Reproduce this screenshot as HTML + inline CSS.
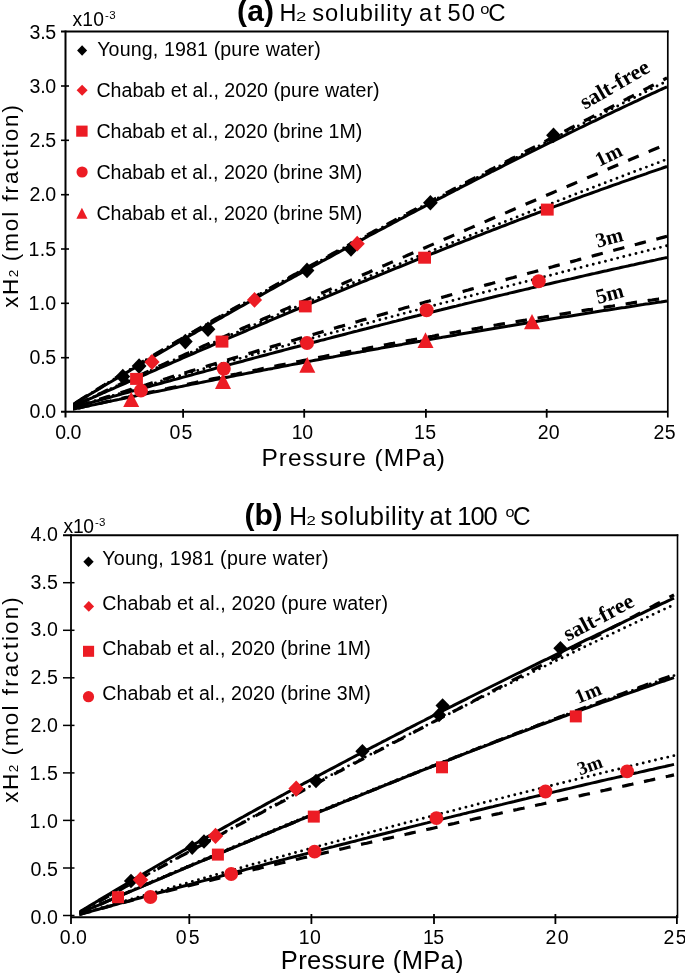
<!DOCTYPE html>
<html><head><meta charset="utf-8"><style>
html,body{margin:0;padding:0;background:#fff;}
svg{display:block;will-change:transform;}
text{fill:#000;}
</style></head><body>
<svg width="685" height="973" viewBox="0 0 685 973">
<rect width="685" height="973" fill="#fff"/>
<line x1="61" y1="31.5" x2="668.5999999999999" y2="31.5" stroke="#000" stroke-width="2"/>
<line x1="65.5" y1="30.5" x2="65.5" y2="417.6" stroke="#000" stroke-width="2"/>
<line x1="61" y1="411.8" x2="667.8" y2="411.8" stroke="#000" stroke-width="2"/>
<line x1="667.8" y1="30.5" x2="667.8" y2="417.6" stroke="#000" stroke-width="1.7"/>
<line x1="61" y1="357.7" x2="69" y2="357.7" stroke="#000" stroke-width="1.6"/>
<line x1="61" y1="303.3" x2="69" y2="303.3" stroke="#000" stroke-width="1.6"/>
<line x1="61" y1="249.0" x2="69" y2="249.0" stroke="#000" stroke-width="1.6"/>
<line x1="61" y1="194.7" x2="69" y2="194.7" stroke="#000" stroke-width="1.6"/>
<line x1="61" y1="140.3" x2="69" y2="140.3" stroke="#000" stroke-width="1.6"/>
<line x1="61" y1="86.0" x2="69" y2="86.0" stroke="#000" stroke-width="1.6"/>
<line x1="183.1" y1="409" x2="183.1" y2="417.7" stroke="#000" stroke-width="1.8"/>
<line x1="304.2" y1="409" x2="304.2" y2="417.7" stroke="#000" stroke-width="1.8"/>
<line x1="425.9" y1="409" x2="425.9" y2="417.7" stroke="#000" stroke-width="1.8"/>
<line x1="546.7" y1="409" x2="546.7" y2="417.7" stroke="#000" stroke-width="1.8"/>
<line x1="63" y1="535.2" x2="678.3" y2="535.2" stroke="#000" stroke-width="2"/>
<line x1="71.0" y1="534.2" x2="71.0" y2="924" stroke="#000" stroke-width="1.8"/>
<line x1="71.0" y1="917.2" x2="677.5" y2="917.2" stroke="#000" stroke-width="1.9"/>
<line x1="677.5" y1="534.2" x2="677.5" y2="918" stroke="#000" stroke-width="1.6"/>
<line x1="676.9" y1="915" x2="676.9" y2="924" stroke="#000" stroke-width="1.8"/>
<line x1="63" y1="915.5" x2="74.5" y2="915.5" stroke="#000" stroke-width="1.5"/>
<line x1="63" y1="868.0" x2="74.5" y2="868.0" stroke="#000" stroke-width="1.5"/>
<line x1="63" y1="820.4" x2="74.5" y2="820.4" stroke="#000" stroke-width="1.5"/>
<line x1="63" y1="772.9" x2="74.5" y2="772.9" stroke="#000" stroke-width="1.5"/>
<line x1="63" y1="725.4" x2="74.5" y2="725.4" stroke="#000" stroke-width="1.5"/>
<line x1="63" y1="677.8" x2="74.5" y2="677.8" stroke="#000" stroke-width="1.5"/>
<line x1="63" y1="630.3" x2="74.5" y2="630.3" stroke="#000" stroke-width="1.5"/>
<line x1="63" y1="582.7" x2="74.5" y2="582.7" stroke="#000" stroke-width="1.5"/>
<line x1="189.3" y1="914" x2="189.3" y2="924" stroke="#000" stroke-width="1.8"/>
<line x1="311.4" y1="914" x2="311.4" y2="924" stroke="#000" stroke-width="1.8"/>
<line x1="434.0" y1="914" x2="434.0" y2="924" stroke="#000" stroke-width="1.8"/>
<line x1="555.4" y1="914" x2="555.4" y2="924" stroke="#000" stroke-width="1.8"/>
<defs><clipPath id="ca"><rect x="73.1" y="30" width="595" height="382"/></clipPath><clipPath id="cb"><rect x="79.3" y="535" width="598" height="382"/></clipPath></defs>
<g clip-path="url(#ca)">
<polyline points="71.0,405.6 74.0,403.8 77.0,402.0 80.0,400.2 83.0,398.4 86.1,396.6 89.1,394.8 92.1,393.0 95.1,391.2 98.1,389.4 101.1,387.6 104.1,385.8 107.1,384.0 110.1,382.3 113.1,380.5 116.2,378.7 119.2,376.9 122.2,375.1 125.2,373.4 128.2,371.6 131.2,369.8 134.2,368.1 137.2,366.3 140.2,364.5 143.2,362.8 146.3,361.0 149.3,359.2 152.3,357.5 155.3,355.7 158.3,354.0 161.3,352.2 164.3,350.5 167.3,348.7 170.3,347.0 173.3,345.2 176.4,343.5 179.4,341.7 182.4,340.0 185.4,338.3 188.4,336.5 191.4,334.8 194.4,333.1 197.4,331.3 200.4,329.6 203.4,327.9 206.5,326.2 209.5,324.4 212.5,322.7 215.5,321.0 218.5,319.3 221.5,317.6 224.5,315.8 227.5,314.1 230.5,312.4 233.5,310.7 236.6,309.0 239.6,307.3 242.6,305.6 245.6,303.9 248.6,302.2 251.6,300.5 254.6,298.8 257.6,297.1 260.6,295.4 263.6,293.7 266.7,292.0 269.7,290.3 272.7,288.7 275.7,287.0 278.7,285.3 281.7,283.6 284.7,281.9 287.7,280.3 290.7,278.6 293.7,276.9 296.8,275.3 299.8,273.6 302.8,271.9 305.8,270.3 308.8,268.6 311.8,267.0 314.8,265.3 317.8,263.6 320.8,262.0 323.8,260.3 326.9,258.7 329.9,257.1 332.9,255.4 335.9,253.8 338.9,252.1 341.9,250.5 344.9,248.9 347.9,247.2 350.9,245.6 353.9,244.0 357.0,242.3 360.0,240.7 363.0,239.1 366.0,237.5 369.0,235.8 372.0,234.2 375.0,232.6 378.0,231.0 381.0,229.4 384.1,227.8 387.1,226.2 390.1,224.6 393.1,223.0 396.1,221.4 399.1,219.8 402.1,218.2 405.1,216.6 408.1,215.0 411.1,213.4 414.2,211.8 417.2,210.2 420.2,208.6 423.2,207.1 426.2,205.5 429.2,203.9 432.2,202.3 435.2,200.8 438.2,199.2 441.2,197.6 444.3,196.1 447.3,194.5 450.3,192.9 453.3,191.4 456.3,189.8 459.3,188.3 462.3,186.7 465.3,185.2 468.3,183.6 471.3,182.1 474.4,180.5 477.4,179.0 480.4,177.5 483.4,175.9 486.4,174.4 489.4,172.9 492.4,171.3 495.4,169.8 498.4,168.3 501.4,166.8 504.5,165.2 507.5,163.7 510.5,162.2 513.5,160.7 516.5,159.2 519.5,157.7 522.5,156.2 525.5,154.7 528.5,153.2 531.5,151.7 534.6,150.2 537.6,148.7 540.6,147.2 543.6,145.7 546.6,144.2 549.6,142.7 552.6,141.3 555.6,139.8 558.6,138.3 561.6,136.8 564.7,135.4 567.7,133.9 570.7,132.4 573.7,131.0 576.7,129.5 579.7,128.0 582.7,126.6 585.7,125.1 588.7,123.7 591.7,122.2 594.8,120.8 597.8,119.3 600.8,117.9 603.8,116.4 606.8,115.0 609.8,113.6 612.8,112.1 615.8,110.7 618.8,109.3 621.8,107.8 624.9,106.4 627.9,105.0 630.9,103.6 633.9,102.2 636.9,100.8 639.9,99.3 642.9,97.9 645.9,96.5 648.9,95.1 651.9,93.7 655.0,92.3 658.0,90.9 661.0,89.5 664.0,88.2 667.0,86.8" fill="none" stroke="#000" stroke-width="3.0" stroke-linejoin="round"/>
<polyline points="71.0,405.7 74.0,403.8 77.0,401.9 80.0,400.0 83.0,398.1 86.1,396.2 89.1,394.4 92.1,392.5 95.1,390.6 98.1,388.8 101.1,386.9 104.1,385.1 107.1,383.2 110.1,381.4 113.1,379.6 116.2,377.7 119.2,375.9 122.2,374.1 125.2,372.2 128.2,370.4 131.2,368.6 134.2,366.8 137.2,365.0 140.2,363.2 143.2,361.4 146.3,359.6 149.3,357.8 152.3,356.0 155.3,354.2 158.3,352.4 161.3,350.6 164.3,348.8 167.3,347.0 170.3,345.3 173.3,343.5 176.4,341.7 179.4,340.0 182.4,338.2 185.4,336.4 188.4,334.7 191.4,332.9 194.4,331.2 197.4,329.4 200.4,327.7 203.4,325.9 206.5,324.2 209.5,322.5 212.5,320.7 215.5,319.0 218.5,317.3 221.5,315.6 224.5,313.8 227.5,312.1 230.5,310.4 233.5,308.7 236.6,307.0 239.6,305.3 242.6,303.6 245.6,301.9 248.6,300.2 251.6,298.5 254.6,296.8 257.6,295.1 260.6,293.4 263.6,291.7 266.7,290.0 269.7,288.3 272.7,286.6 275.7,285.0 278.7,283.3 281.7,281.6 284.7,279.9 287.7,278.3 290.7,276.6 293.7,274.9 296.8,273.3 299.8,271.6 302.8,270.0 305.8,268.3 308.8,266.6 311.8,265.0 314.8,263.3 317.8,261.7 320.8,260.0 323.8,258.4 326.9,256.8 329.9,255.1 332.9,253.5 335.9,251.8 338.9,250.2 341.9,248.6 344.9,247.0 347.9,245.3 350.9,243.7 353.9,242.1 357.0,240.4 360.0,238.8 363.0,237.2 366.0,235.6 369.0,234.0 372.0,232.4 375.0,230.7 378.0,229.1 381.0,227.5 384.1,225.9 387.1,224.3 390.1,222.7 393.1,221.1 396.1,219.5 399.1,217.9 402.1,216.3 405.1,214.7 408.1,213.1 411.1,211.5 414.2,209.9 417.2,208.3 420.2,206.7 423.2,205.1 426.2,203.5 429.2,201.9 432.2,200.3 435.2,198.7 438.2,197.2 441.2,195.6 444.3,194.0 447.3,192.4 450.3,190.8 453.3,189.2 456.3,187.7 459.3,186.1 462.3,184.5 465.3,182.9 468.3,181.3 471.3,179.8 474.4,178.2 477.4,176.6 480.4,175.0 483.4,173.5 486.4,171.9 489.4,170.3 492.4,168.8 495.4,167.2 498.4,165.6 501.4,164.0 504.5,162.5 507.5,160.9 510.5,159.3 513.5,157.8 516.5,156.2 519.5,154.6 522.5,153.1 525.5,151.5 528.5,149.9 531.5,148.4 534.6,146.8 537.6,145.2 540.6,143.7 543.6,142.1 546.6,140.6 549.6,139.0 552.6,137.4 555.6,135.9 558.6,134.3 561.6,132.7 564.7,131.2 567.7,129.6 570.7,128.0 573.7,126.5 576.7,124.9 579.7,123.4 582.7,121.8 585.7,120.2 588.7,118.7 591.7,117.1 594.8,115.5 597.8,114.0 600.8,112.4 603.8,110.8 606.8,109.3 609.8,107.7 612.8,106.2 615.8,104.6 618.8,103.0 621.8,101.5 624.9,99.9 627.9,98.3 630.9,96.8 633.9,95.2 636.9,93.6 639.9,92.0 642.9,90.5 645.9,88.9 648.9,87.3 651.9,85.8 655.0,84.2 658.0,82.6 661.0,81.0 664.0,79.5 667.0,77.9" fill="none" stroke="#000" stroke-width="3.2" stroke-dasharray="11.5 10.8" stroke-linejoin="round" stroke-dashoffset="-7.3"/>
<polyline points="71.0,405.6 74.0,403.8 77.0,401.9 80.0,400.0 83.0,398.2 86.1,396.3 89.1,394.4 92.1,392.6 95.1,390.7 98.1,388.9 101.1,387.0 104.1,385.2 107.1,383.4 110.1,381.5 113.1,379.7 116.2,377.9 119.2,376.1 122.2,374.2 125.2,372.4 128.2,370.6 131.2,368.8 134.2,367.0 137.2,365.2 140.2,363.4 143.2,361.6 146.3,359.8 149.3,358.0 152.3,356.2 155.3,354.4 158.3,352.6 161.3,350.9 164.3,349.1 167.3,347.3 170.3,345.5 173.3,343.8 176.4,342.0 179.4,340.2 182.4,338.5 185.4,336.7 188.4,335.0 191.4,333.2 194.4,331.5 197.4,329.7 200.4,328.0 203.4,326.3 206.5,324.5 209.5,322.8 212.5,321.1 215.5,319.3 218.5,317.6 221.5,315.9 224.5,314.2 227.5,312.5 230.5,310.7 233.5,309.0 236.6,307.3 239.6,305.6 242.6,303.9 245.6,302.2 248.6,300.5 251.6,298.8 254.6,297.1 257.6,295.4 260.6,293.7 263.6,292.1 266.7,290.4 269.7,288.7 272.7,287.0 275.7,285.3 278.7,283.7 281.7,282.0 284.7,280.3 287.7,278.7 290.7,277.0 293.7,275.3 296.8,273.7 299.8,272.0 302.8,270.4 305.8,268.7 308.8,267.1 311.8,265.4 314.8,263.8 317.8,262.1 320.8,260.5 323.8,258.8 326.9,257.2 329.9,255.6 332.9,253.9 335.9,252.3 338.9,250.7 341.9,249.0 344.9,247.4 347.9,245.8 350.9,244.2 353.9,242.5 357.0,240.9 360.0,239.3 363.0,237.7 366.0,236.1 369.0,234.5 372.0,232.9 375.0,231.3 378.0,229.7 381.0,228.0 384.1,226.4 387.1,224.8 390.1,223.2 393.1,221.6 396.1,220.1 399.1,218.5 402.1,216.9 405.1,215.3 408.1,213.7 411.1,212.1 414.2,210.5 417.2,208.9 420.2,207.3 423.2,205.8 426.2,204.2 429.2,202.6 432.2,201.0 435.2,199.5 438.2,197.9 441.2,196.3 444.3,194.7 447.3,193.2 450.3,191.6 453.3,190.0 456.3,188.5 459.3,186.9 462.3,185.3 465.3,183.8 468.3,182.2 471.3,180.7 474.4,179.1 477.4,177.5 480.4,176.0 483.4,174.4 486.4,172.9 489.4,171.3 492.4,169.8 495.4,168.2 498.4,166.7 501.4,165.1 504.5,163.6 507.5,162.0 510.5,160.5 513.5,158.9 516.5,157.4 519.5,155.9 522.5,154.3 525.5,152.8 528.5,151.2 531.5,149.7 534.6,148.2 537.6,146.6 540.6,145.1 543.6,143.5 546.6,142.0 549.6,140.5 552.6,138.9 555.6,137.4 558.6,135.9 561.6,134.4 564.7,132.8 567.7,131.3 570.7,129.8 573.7,128.2 576.7,126.7 579.7,125.2 582.7,123.6 585.7,122.1 588.7,120.6 591.7,119.1 594.8,117.5 597.8,116.0 600.8,114.5 603.8,113.0 606.8,111.4 609.8,109.9 612.8,108.4 615.8,106.9 618.8,105.4 621.8,103.8 624.9,102.3 627.9,100.8 630.9,99.3 633.9,97.8 636.9,96.2 639.9,94.7 642.9,93.2 645.9,91.7 648.9,90.2 651.9,88.6 655.0,87.1 658.0,85.6 661.0,84.1 664.0,82.6 667.0,81.0" fill="none" stroke="#000" stroke-width="2.9" stroke-dasharray="0 6.3" stroke-linecap="round"/>
<polyline points="71.0,407.2 74.0,405.8 77.0,404.5 80.0,403.2 83.0,401.8 86.1,400.5 89.1,399.2 92.1,397.9 95.1,396.5 98.1,395.2 101.1,393.9 104.1,392.5 107.1,391.2 110.1,389.9 113.1,388.6 116.2,387.2 119.2,385.9 122.2,384.6 125.2,383.3 128.2,381.9 131.2,380.6 134.2,379.3 137.2,378.0 140.2,376.6 143.2,375.3 146.3,374.0 149.3,372.7 152.3,371.4 155.3,370.1 158.3,368.7 161.3,367.4 164.3,366.1 167.3,364.8 170.3,363.5 173.3,362.2 176.4,360.9 179.4,359.6 182.4,358.2 185.4,356.9 188.4,355.6 191.4,354.3 194.4,353.0 197.4,351.7 200.4,350.4 203.4,349.1 206.5,347.8 209.5,346.5 212.5,345.2 215.5,343.9 218.5,342.6 221.5,341.3 224.5,340.0 227.5,338.7 230.5,337.4 233.5,336.1 236.6,334.8 239.6,333.5 242.6,332.3 245.6,331.0 248.6,329.7 251.6,328.4 254.6,327.1 257.6,325.8 260.6,324.5 263.6,323.3 266.7,322.0 269.7,320.7 272.7,319.4 275.7,318.2 278.7,316.9 281.7,315.6 284.7,314.3 287.7,313.1 290.7,311.8 293.7,310.5 296.8,309.3 299.8,308.0 302.8,306.7 305.8,305.5 308.8,304.2 311.8,302.9 314.8,301.7 317.8,300.4 320.8,299.2 323.8,297.9 326.9,296.6 329.9,295.4 332.9,294.1 335.9,292.9 338.9,291.6 341.9,290.4 344.9,289.1 347.9,287.9 350.9,286.7 353.9,285.4 357.0,284.2 360.0,282.9 363.0,281.7 366.0,280.5 369.0,279.2 372.0,278.0 375.0,276.8 378.0,275.5 381.0,274.3 384.1,273.1 387.1,271.9 390.1,270.6 393.1,269.4 396.1,268.2 399.1,267.0 402.1,265.8 405.1,264.6 408.1,263.3 411.1,262.1 414.2,260.9 417.2,259.7 420.2,258.5 423.2,257.3 426.2,256.1 429.2,254.9 432.2,253.7 435.2,252.5 438.2,251.3 441.2,250.1 444.3,248.9 447.3,247.7 450.3,246.5 453.3,245.4 456.3,244.2 459.3,243.0 462.3,241.8 465.3,240.6 468.3,239.5 471.3,238.3 474.4,237.1 477.4,235.9 480.4,234.8 483.4,233.6 486.4,232.4 489.4,231.3 492.4,230.1 495.4,229.0 498.4,227.8 501.4,226.6 504.5,225.5 507.5,224.3 510.5,223.2 513.5,222.0 516.5,220.9 519.5,219.7 522.5,218.6 525.5,217.5 528.5,216.3 531.5,215.2 534.6,214.1 537.6,212.9 540.6,211.8 543.6,210.7 546.6,209.6 549.6,208.4 552.6,207.3 555.6,206.2 558.6,205.1 561.6,204.0 564.7,202.9 567.7,201.8 570.7,200.6 573.7,199.5 576.7,198.4 579.7,197.3 582.7,196.2 585.7,195.1 588.7,194.1 591.7,193.0 594.8,191.9 597.8,190.8 600.8,189.7 603.8,188.6 606.8,187.6 609.8,186.5 612.8,185.4 615.8,184.3 618.8,183.3 621.8,182.2 624.9,181.1 627.9,180.1 630.9,179.0 633.9,178.0 636.9,176.9 639.9,175.9 642.9,174.8 645.9,173.8 648.9,172.7 651.9,171.7 655.0,170.6 658.0,169.6 661.0,168.6 664.0,167.5 667.0,166.5" fill="none" stroke="#000" stroke-width="3.0" stroke-linejoin="round"/>
<polyline points="71.0,407.2 74.0,405.8 77.0,404.4 80.0,403.0 83.0,401.6 86.1,400.2 89.1,398.8 92.1,397.4 95.1,395.9 98.1,394.5 101.1,393.1 104.1,391.7 107.1,390.3 110.1,388.9 113.1,387.5 116.2,386.1 119.2,384.7 122.2,383.3 125.2,381.9 128.2,380.5 131.2,379.1 134.2,377.7 137.2,376.3 140.2,375.0 143.2,373.6 146.3,372.2 149.3,370.8 152.3,369.4 155.3,368.0 158.3,366.6 161.3,365.3 164.3,363.9 167.3,362.5 170.3,361.1 173.3,359.7 176.4,358.4 179.4,357.0 182.4,355.6 185.4,354.2 188.4,352.9 191.4,351.5 194.4,350.1 197.4,348.7 200.4,347.4 203.4,346.0 206.5,344.6 209.5,343.3 212.5,341.9 215.5,340.5 218.5,339.2 221.5,337.8 224.5,336.5 227.5,335.1 230.5,333.7 233.5,332.4 236.6,331.0 239.6,329.7 242.6,328.3 245.6,327.0 248.6,325.6 251.6,324.2 254.6,322.9 257.6,321.5 260.6,320.2 263.6,318.8 266.7,317.5 269.7,316.2 272.7,314.8 275.7,313.5 278.7,312.1 281.7,310.8 284.7,309.4 287.7,308.1 290.7,306.7 293.7,305.4 296.8,304.1 299.8,302.7 302.8,301.4 305.8,300.1 308.8,298.7 311.8,297.4 314.8,296.0 317.8,294.7 320.8,293.4 323.8,292.1 326.9,290.7 329.9,289.4 332.9,288.1 335.9,286.7 338.9,285.4 341.9,284.1 344.9,282.7 347.9,281.4 350.9,280.1 353.9,278.8 357.0,277.4 360.0,276.1 363.0,274.8 366.0,273.5 369.0,272.2 372.0,270.8 375.0,269.5 378.0,268.2 381.0,266.9 384.1,265.6 387.1,264.2 390.1,262.9 393.1,261.6 396.1,260.3 399.1,259.0 402.1,257.7 405.1,256.4 408.1,255.0 411.1,253.7 414.2,252.4 417.2,251.1 420.2,249.8 423.2,248.5 426.2,247.2 429.2,245.9 432.2,244.6 435.2,243.3 438.2,242.0 441.2,240.7 444.3,239.3 447.3,238.0 450.3,236.7 453.3,235.4 456.3,234.1 459.3,232.8 462.3,231.5 465.3,230.2 468.3,228.9 471.3,227.6 474.4,226.3 477.4,225.0 480.4,223.7 483.4,222.4 486.4,221.1 489.4,219.8 492.4,218.5 495.4,217.2 498.4,215.9 501.4,214.7 504.5,213.4 507.5,212.1 510.5,210.8 513.5,209.5 516.5,208.2 519.5,206.9 522.5,205.6 525.5,204.3 528.5,203.0 531.5,201.7 534.6,200.4 537.6,199.1 540.6,197.8 543.6,196.6 546.6,195.3 549.6,194.0 552.6,192.7 555.6,191.4 558.6,190.1 561.6,188.8 564.7,187.5 567.7,186.3 570.7,185.0 573.7,183.7 576.7,182.4 579.7,181.1 582.7,179.8 585.7,178.5 588.7,177.2 591.7,176.0 594.8,174.7 597.8,173.4 600.8,172.1 603.8,170.8 606.8,169.5 609.8,168.3 612.8,167.0 615.8,165.7 618.8,164.4 621.8,163.1 624.9,161.9 627.9,160.6 630.9,159.3 633.9,158.0 636.9,156.7 639.9,155.4 642.9,154.2 645.9,152.9 648.9,151.6 651.9,150.3 655.0,149.0 658.0,147.8 661.0,146.5 664.0,145.2 667.0,143.9" fill="none" stroke="#000" stroke-width="3.2" stroke-dasharray="11.5 10.8" stroke-linejoin="round" stroke-dashoffset="-7.3"/>
<polyline points="71.0,407.2 74.0,405.8 77.0,404.4 80.0,403.0 83.0,401.6 86.1,400.2 89.1,398.8 92.1,397.4 95.1,396.0 98.1,394.6 101.1,393.2 104.1,391.8 107.1,390.4 110.1,389.1 113.1,387.7 116.2,386.3 119.2,384.9 122.2,383.5 125.2,382.1 128.2,380.8 131.2,379.4 134.2,378.0 137.2,376.7 140.2,375.3 143.2,373.9 146.3,372.6 149.3,371.2 152.3,369.8 155.3,368.5 158.3,367.1 161.3,365.8 164.3,364.4 167.3,363.1 170.3,361.7 173.3,360.4 176.4,359.0 179.4,357.7 182.4,356.3 185.4,355.0 188.4,353.7 191.4,352.3 194.4,351.0 197.4,349.7 200.4,348.3 203.4,347.0 206.5,345.7 209.5,344.3 212.5,343.0 215.5,341.7 218.5,340.4 221.5,339.1 224.5,337.7 227.5,336.4 230.5,335.1 233.5,333.8 236.6,332.5 239.6,331.2 242.6,329.9 245.6,328.6 248.6,327.3 251.6,326.0 254.6,324.7 257.6,323.4 260.6,322.1 263.6,320.8 266.7,319.5 269.7,318.2 272.7,316.9 275.7,315.6 278.7,314.3 281.7,313.0 284.7,311.8 287.7,310.5 290.7,309.2 293.7,307.9 296.8,306.6 299.8,305.4 302.8,304.1 305.8,302.8 308.8,301.5 311.8,300.3 314.8,299.0 317.8,297.7 320.8,296.5 323.8,295.2 326.9,293.9 329.9,292.7 332.9,291.4 335.9,290.2 338.9,288.9 341.9,287.7 344.9,286.4 347.9,285.1 350.9,283.9 353.9,282.6 357.0,281.4 360.0,280.2 363.0,278.9 366.0,277.7 369.0,276.4 372.0,275.2 375.0,273.9 378.0,272.7 381.0,271.5 384.1,270.2 387.1,269.0 390.1,267.8 393.1,266.5 396.1,265.3 399.1,264.1 402.1,262.8 405.1,261.6 408.1,260.4 411.1,259.2 414.2,257.9 417.2,256.7 420.2,255.5 423.2,254.3 426.2,253.1 429.2,251.9 432.2,250.6 435.2,249.4 438.2,248.2 441.2,247.0 444.3,245.8 447.3,244.6 450.3,243.4 453.3,242.2 456.3,241.0 459.3,239.8 462.3,238.6 465.3,237.4 468.3,236.2 471.3,235.0 474.4,233.8 477.4,232.6 480.4,231.4 483.4,230.2 486.4,229.0 489.4,227.8 492.4,226.6 495.4,225.4 498.4,224.2 501.4,223.1 504.5,221.9 507.5,220.7 510.5,219.5 513.5,218.3 516.5,217.1 519.5,216.0 522.5,214.8 525.5,213.6 528.5,212.4 531.5,211.2 534.6,210.1 537.6,208.9 540.6,207.7 543.6,206.5 546.6,205.4 549.6,204.2 552.6,203.0 555.6,201.9 558.6,200.7 561.6,199.5 564.7,198.4 567.7,197.2 570.7,196.0 573.7,194.9 576.7,193.7 579.7,192.6 582.7,191.4 585.7,190.2 588.7,189.1 591.7,187.9 594.8,186.8 597.8,185.6 600.8,184.5 603.8,183.3 606.8,182.2 609.8,181.0 612.8,179.9 615.8,178.7 618.8,177.6 621.8,176.4 624.9,175.3 627.9,174.1 630.9,173.0 633.9,171.8 636.9,170.7 639.9,169.5 642.9,168.4 645.9,167.3 648.9,166.1 651.9,165.0 655.0,163.8 658.0,162.7 661.0,161.6 664.0,160.4 667.0,159.3" fill="none" stroke="#000" stroke-width="2.9" stroke-dasharray="0 6.3" stroke-linecap="round"/>
<polyline points="71.0,408.1 74.0,407.3 77.0,406.4 80.0,405.6 83.0,404.8 86.1,403.9 89.1,403.1 92.1,402.3 95.1,401.4 98.1,400.6 101.1,399.8 104.1,398.9 107.1,398.1 110.1,397.3 113.1,396.4 116.2,395.6 119.2,394.8 122.2,393.9 125.2,393.1 128.2,392.3 131.2,391.4 134.2,390.6 137.2,389.8 140.2,389.0 143.2,388.1 146.3,387.3 149.3,386.5 152.3,385.6 155.3,384.8 158.3,384.0 161.3,383.2 164.3,382.3 167.3,381.5 170.3,380.7 173.3,379.9 176.4,379.1 179.4,378.2 182.4,377.4 185.4,376.6 188.4,375.8 191.4,375.0 194.4,374.1 197.4,373.3 200.4,372.5 203.4,371.7 206.5,370.9 209.5,370.1 212.5,369.3 215.5,368.4 218.5,367.6 221.5,366.8 224.5,366.0 227.5,365.2 230.5,364.4 233.5,363.6 236.6,362.8 239.6,362.0 242.6,361.2 245.6,360.3 248.6,359.5 251.6,358.7 254.6,357.9 257.6,357.1 260.6,356.3 263.6,355.5 266.7,354.7 269.7,353.9 272.7,353.1 275.7,352.3 278.7,351.5 281.7,350.7 284.7,349.9 287.7,349.1 290.7,348.3 293.7,347.5 296.8,346.8 299.8,346.0 302.8,345.2 305.8,344.4 308.8,343.6 311.8,342.8 314.8,342.0 317.8,341.2 320.8,340.4 323.8,339.7 326.9,338.9 329.9,338.1 332.9,337.3 335.9,336.5 338.9,335.7 341.9,335.0 344.9,334.2 347.9,333.4 350.9,332.6 353.9,331.8 357.0,331.1 360.0,330.3 363.0,329.5 366.0,328.8 369.0,328.0 372.0,327.2 375.0,326.4 378.0,325.7 381.0,324.9 384.1,324.1 387.1,323.4 390.1,322.6 393.1,321.8 396.1,321.1 399.1,320.3 402.1,319.6 405.1,318.8 408.1,318.0 411.1,317.3 414.2,316.5 417.2,315.8 420.2,315.0 423.2,314.3 426.2,313.5 429.2,312.8 432.2,312.0 435.2,311.3 438.2,310.5 441.2,309.8 444.3,309.0 447.3,308.3 450.3,307.5 453.3,306.8 456.3,306.1 459.3,305.3 462.3,304.6 465.3,303.8 468.3,303.1 471.3,302.4 474.4,301.6 477.4,300.9 480.4,300.2 483.4,299.5 486.4,298.7 489.4,298.0 492.4,297.3 495.4,296.5 498.4,295.8 501.4,295.1 504.5,294.4 507.5,293.7 510.5,292.9 513.5,292.2 516.5,291.5 519.5,290.8 522.5,290.1 525.5,289.4 528.5,288.7 531.5,287.9 534.6,287.2 537.6,286.5 540.6,285.8 543.6,285.1 546.6,284.4 549.6,283.7 552.6,283.0 555.6,282.3 558.6,281.6 561.6,280.9 564.7,280.2 567.7,279.5 570.7,278.9 573.7,278.2 576.7,277.5 579.7,276.8 582.7,276.1 585.7,275.4 588.7,274.7 591.7,274.0 594.8,273.4 597.8,272.7 600.8,272.0 603.8,271.3 606.8,270.7 609.8,270.0 612.8,269.3 615.8,268.6 618.8,268.0 621.8,267.3 624.9,266.6 627.9,266.0 630.9,265.3 633.9,264.7 636.9,264.0 639.9,263.3 642.9,262.7 645.9,262.0 648.9,261.4 651.9,260.7 655.0,260.1 658.0,259.4 661.0,258.8 664.0,258.1 667.0,257.5" fill="none" stroke="#000" stroke-width="3.0" stroke-linejoin="round"/>
<polyline points="71.0,408.2 74.0,407.3 77.0,406.4 80.0,405.4 83.0,404.5 86.1,403.6 89.1,402.7 92.1,401.8 95.1,400.8 98.1,399.9 101.1,399.0 104.1,398.1 107.1,397.2 110.1,396.3 113.1,395.4 116.2,394.5 119.2,393.6 122.2,392.7 125.2,391.8 128.2,390.9 131.2,390.0 134.2,389.1 137.2,388.2 140.2,387.3 143.2,386.4 146.3,385.5 149.3,384.6 152.3,383.7 155.3,382.9 158.3,382.0 161.3,381.1 164.3,380.2 167.3,379.3 170.3,378.4 173.3,377.6 176.4,376.7 179.4,375.8 182.4,374.9 185.4,374.1 188.4,373.2 191.4,372.3 194.4,371.4 197.4,370.6 200.4,369.7 203.4,368.8 206.5,368.0 209.5,367.1 212.5,366.2 215.5,365.4 218.5,364.5 221.5,363.6 224.5,362.8 227.5,361.9 230.5,361.1 233.5,360.2 236.6,359.4 239.6,358.5 242.6,357.7 245.6,356.8 248.6,356.0 251.6,355.1 254.6,354.3 257.6,353.4 260.6,352.6 263.6,351.7 266.7,350.9 269.7,350.0 272.7,349.2 275.7,348.4 278.7,347.5 281.7,346.7 284.7,345.8 287.7,345.0 290.7,344.2 293.7,343.3 296.8,342.5 299.8,341.7 302.8,340.8 305.8,340.0 308.8,339.2 311.8,338.3 314.8,337.5 317.8,336.7 320.8,335.9 323.8,335.0 326.9,334.2 329.9,333.4 332.9,332.6 335.9,331.8 338.9,330.9 341.9,330.1 344.9,329.3 347.9,328.5 350.9,327.7 353.9,326.8 357.0,326.0 360.0,325.2 363.0,324.4 366.0,323.6 369.0,322.8 372.0,322.0 375.0,321.2 378.0,320.3 381.0,319.5 384.1,318.7 387.1,317.9 390.1,317.1 393.1,316.3 396.1,315.5 399.1,314.7 402.1,313.9 405.1,313.1 408.1,312.3 411.1,311.5 414.2,310.7 417.2,309.9 420.2,309.1 423.2,308.3 426.2,307.5 429.2,306.7 432.2,305.9 435.2,305.1 438.2,304.3 441.2,303.5 444.3,302.8 447.3,302.0 450.3,301.2 453.3,300.4 456.3,299.6 459.3,298.8 462.3,298.0 465.3,297.2 468.3,296.4 471.3,295.7 474.4,294.9 477.4,294.1 480.4,293.3 483.4,292.5 486.4,291.7 489.4,291.0 492.4,290.2 495.4,289.4 498.4,288.6 501.4,287.8 504.5,287.0 507.5,286.3 510.5,285.5 513.5,284.7 516.5,283.9 519.5,283.2 522.5,282.4 525.5,281.6 528.5,280.8 531.5,280.1 534.6,279.3 537.6,278.5 540.6,277.7 543.6,277.0 546.6,276.2 549.6,275.4 552.6,274.7 555.6,273.9 558.6,273.1 561.6,272.3 564.7,271.6 567.7,270.8 570.7,270.0 573.7,269.3 576.7,268.5 579.7,267.7 582.7,267.0 585.7,266.2 588.7,265.4 591.7,264.7 594.8,263.9 597.8,263.1 600.8,262.4 603.8,261.6 606.8,260.9 609.8,260.1 612.8,259.3 615.8,258.6 618.8,257.8 621.8,257.0 624.9,256.3 627.9,255.5 630.9,254.8 633.9,254.0 636.9,253.2 639.9,252.5 642.9,251.7 645.9,251.0 648.9,250.2 651.9,249.4 655.0,248.7 658.0,247.9 661.0,247.2 664.0,246.4 667.0,245.7" fill="none" stroke="#000" stroke-width="2.9" stroke-dasharray="0 6.3" stroke-linecap="round"/>
<polyline points="71.0,408.2 74.0,407.3 77.0,406.3 80.0,405.4 83.0,404.4 86.1,403.5 89.1,402.5 92.1,401.6 95.1,400.7 98.1,399.7 101.1,398.8 104.1,397.8 107.1,396.9 110.1,396.0 113.1,395.0 116.2,394.1 119.2,393.1 122.2,392.2 125.2,391.3 128.2,390.3 131.2,389.4 134.2,388.5 137.2,387.5 140.2,386.6 143.2,385.7 146.3,384.8 149.3,383.8 152.3,382.9 155.3,382.0 158.3,381.0 161.3,380.1 164.3,379.2 167.3,378.3 170.3,377.3 173.3,376.4 176.4,375.5 179.4,374.6 182.4,373.7 185.4,372.7 188.4,371.8 191.4,370.9 194.4,370.0 197.4,369.1 200.4,368.2 203.4,367.2 206.5,366.3 209.5,365.4 212.5,364.5 215.5,363.6 218.5,362.7 221.5,361.8 224.5,360.9 227.5,360.0 230.5,359.0 233.5,358.1 236.6,357.2 239.6,356.3 242.6,355.4 245.6,354.5 248.6,353.6 251.6,352.7 254.6,351.8 257.6,350.9 260.6,350.0 263.6,349.1 266.7,348.2 269.7,347.3 272.7,346.4 275.7,345.5 278.7,344.6 281.7,343.8 284.7,342.9 287.7,342.0 290.7,341.1 293.7,340.2 296.8,339.3 299.8,338.4 302.8,337.5 305.8,336.6 308.8,335.7 311.8,334.9 314.8,334.0 317.8,333.1 320.8,332.2 323.8,331.3 326.9,330.5 329.9,329.6 332.9,328.7 335.9,327.8 338.9,326.9 341.9,326.1 344.9,325.2 347.9,324.3 350.9,323.4 353.9,322.6 357.0,321.7 360.0,320.8 363.0,319.9 366.0,319.1 369.0,318.2 372.0,317.3 375.0,316.5 378.0,315.6 381.0,314.7 384.1,313.9 387.1,313.0 390.1,312.1 393.1,311.3 396.1,310.4 399.1,309.6 402.1,308.7 405.1,307.8 408.1,307.0 411.1,306.1 414.2,305.3 417.2,304.4 420.2,303.6 423.2,302.7 426.2,301.8 429.2,301.0 432.2,300.1 435.2,299.3 438.2,298.4 441.2,297.6 444.3,296.7 447.3,295.9 450.3,295.0 453.3,294.2 456.3,293.4 459.3,292.5 462.3,291.7 465.3,290.8 468.3,290.0 471.3,289.1 474.4,288.3 477.4,287.5 480.4,286.6 483.4,285.8 486.4,284.9 489.4,284.1 492.4,283.3 495.4,282.4 498.4,281.6 501.4,280.8 504.5,279.9 507.5,279.1 510.5,278.3 513.5,277.5 516.5,276.6 519.5,275.8 522.5,275.0 525.5,274.2 528.5,273.3 531.5,272.5 534.6,271.7 537.6,270.9 540.6,270.0 543.6,269.2 546.6,268.4 549.6,267.6 552.6,266.8 555.6,265.9 558.6,265.1 561.6,264.3 564.7,263.5 567.7,262.7 570.7,261.9 573.7,261.1 576.7,260.3 579.7,259.4 582.7,258.6 585.7,257.8 588.7,257.0 591.7,256.2 594.8,255.4 597.8,254.6 600.8,253.8 603.8,253.0 606.8,252.2 609.8,251.4 612.8,250.6 615.8,249.8 618.8,249.0 621.8,248.2 624.9,247.4 627.9,246.6 630.9,245.8 633.9,245.0 636.9,244.2 639.9,243.4 642.9,242.6 645.9,241.8 648.9,241.1 651.9,240.3 655.0,239.5 658.0,238.7 661.0,237.9 664.0,237.1 667.0,236.3" fill="none" stroke="#000" stroke-width="3.2" stroke-dasharray="11.5 10.8" stroke-linejoin="round" stroke-dashoffset="-7.3"/>
<polyline points="71.0,409.7 74.0,409.0 77.0,408.4 80.0,407.7 83.0,407.1 86.1,406.4 89.1,405.8 92.1,405.1 95.1,404.5 98.1,403.8 101.1,403.2 104.1,402.5 107.1,401.9 110.1,401.3 113.1,400.6 116.2,400.0 119.2,399.4 122.2,398.7 125.2,398.1 128.2,397.5 131.2,396.8 134.2,396.2 137.2,395.6 140.2,394.9 143.2,394.3 146.3,393.7 149.3,393.1 152.3,392.4 155.3,391.8 158.3,391.2 161.3,390.6 164.3,390.0 167.3,389.3 170.3,388.7 173.3,388.1 176.4,387.5 179.4,386.9 182.4,386.3 185.4,385.6 188.4,385.0 191.4,384.4 194.4,383.8 197.4,383.2 200.4,382.6 203.4,382.0 206.5,381.4 209.5,380.8 212.5,380.2 215.5,379.6 218.5,379.0 221.5,378.4 224.5,377.8 227.5,377.2 230.5,376.6 233.5,376.0 236.6,375.4 239.6,374.8 242.6,374.2 245.6,373.6 248.6,373.0 251.6,372.5 254.6,371.9 257.6,371.3 260.6,370.7 263.6,370.1 266.7,369.5 269.7,368.9 272.7,368.4 275.7,367.8 278.7,367.2 281.7,366.6 284.7,366.1 287.7,365.5 290.7,364.9 293.7,364.3 296.8,363.8 299.8,363.2 302.8,362.6 305.8,362.0 308.8,361.5 311.8,360.9 314.8,360.3 317.8,359.8 320.8,359.2 323.8,358.6 326.9,358.1 329.9,357.5 332.9,357.0 335.9,356.4 338.9,355.8 341.9,355.3 344.9,354.7 347.9,354.2 350.9,353.6 353.9,353.1 357.0,352.5 360.0,352.0 363.0,351.4 366.0,350.9 369.0,350.3 372.0,349.8 375.0,349.2 378.0,348.7 381.0,348.1 384.1,347.6 387.1,347.1 390.1,346.5 393.1,346.0 396.1,345.4 399.1,344.9 402.1,344.4 405.1,343.8 408.1,343.3 411.1,342.8 414.2,342.2 417.2,341.7 420.2,341.2 423.2,340.6 426.2,340.1 429.2,339.6 432.2,339.0 435.2,338.5 438.2,338.0 441.2,337.5 444.3,336.9 447.3,336.4 450.3,335.9 453.3,335.4 456.3,334.9 459.3,334.3 462.3,333.8 465.3,333.3 468.3,332.8 471.3,332.3 474.4,331.8 477.4,331.3 480.4,330.8 483.4,330.2 486.4,329.7 489.4,329.2 492.4,328.7 495.4,328.2 498.4,327.7 501.4,327.2 504.5,326.7 507.5,326.2 510.5,325.7 513.5,325.2 516.5,324.7 519.5,324.2 522.5,323.7 525.5,323.2 528.5,322.7 531.5,322.2 534.6,321.7 537.6,321.2 540.6,320.7 543.6,320.2 546.6,319.8 549.6,319.3 552.6,318.8 555.6,318.3 558.6,317.8 561.6,317.3 564.7,316.8 567.7,316.4 570.7,315.9 573.7,315.4 576.7,314.9 579.7,314.4 582.7,314.0 585.7,313.5 588.7,313.0 591.7,312.5 594.8,312.1 597.8,311.6 600.8,311.1 603.8,310.6 606.8,310.2 609.8,309.7 612.8,309.2 615.8,308.8 618.8,308.3 621.8,307.8 624.9,307.4 627.9,306.9 630.9,306.4 633.9,306.0 636.9,305.5 639.9,305.0 642.9,304.6 645.9,304.1 648.9,303.7 651.9,303.2 655.0,302.8 658.0,302.3 661.0,301.9 664.0,301.4 667.0,300.9" fill="none" stroke="#000" stroke-width="3.0" stroke-linejoin="round"/>
<polyline points="71.0,409.7 74.0,409.1 77.0,408.4 80.0,407.7 83.0,407.0 86.1,406.3 89.1,405.7 92.1,405.0 95.1,404.3 98.1,403.6 101.1,403.0 104.1,402.3 107.1,401.6 110.1,401.0 113.1,400.3 116.2,399.6 119.2,399.0 122.2,398.3 125.2,397.6 128.2,397.0 131.2,396.3 134.2,395.7 137.2,395.0 140.2,394.3 143.2,393.7 146.3,393.0 149.3,392.4 152.3,391.7 155.3,391.1 158.3,390.4 161.3,389.8 164.3,389.1 167.3,388.5 170.3,387.8 173.3,387.2 176.4,386.6 179.4,385.9 182.4,385.3 185.4,384.6 188.4,384.0 191.4,383.4 194.4,382.7 197.4,382.1 200.4,381.5 203.4,380.8 206.5,380.2 209.5,379.6 212.5,378.9 215.5,378.3 218.5,377.7 221.5,377.1 224.5,376.4 227.5,375.8 230.5,375.2 233.5,374.6 236.6,374.0 239.6,373.3 242.6,372.7 245.6,372.1 248.6,371.5 251.6,370.9 254.6,370.3 257.6,369.7 260.6,369.0 263.6,368.4 266.7,367.8 269.7,367.2 272.7,366.6 275.7,366.0 278.7,365.4 281.7,364.8 284.7,364.2 287.7,363.6 290.7,363.0 293.7,362.4 296.8,361.8 299.8,361.2 302.8,360.6 305.8,360.0 308.8,359.5 311.8,358.9 314.8,358.3 317.8,357.7 320.8,357.1 323.8,356.5 326.9,355.9 329.9,355.3 332.9,354.8 335.9,354.2 338.9,353.6 341.9,353.0 344.9,352.5 347.9,351.9 350.9,351.3 353.9,350.7 357.0,350.2 360.0,349.6 363.0,349.0 366.0,348.5 369.0,347.9 372.0,347.3 375.0,346.8 378.0,346.2 381.0,345.6 384.1,345.1 387.1,344.5 390.1,343.9 393.1,343.4 396.1,342.8 399.1,342.3 402.1,341.7 405.1,341.2 408.1,340.6 411.1,340.1 414.2,339.5 417.2,339.0 420.2,338.4 423.2,337.9 426.2,337.3 429.2,336.8 432.2,336.3 435.2,335.7 438.2,335.2 441.2,334.6 444.3,334.1 447.3,333.6 450.3,333.0 453.3,332.5 456.3,332.0 459.3,331.4 462.3,330.9 465.3,330.4 468.3,329.8 471.3,329.3 474.4,328.8 477.4,328.3 480.4,327.7 483.4,327.2 486.4,326.7 489.4,326.2 492.4,325.7 495.4,325.2 498.4,324.6 501.4,324.1 504.5,323.6 507.5,323.1 510.5,322.6 513.5,322.1 516.5,321.6 519.5,321.1 522.5,320.6 525.5,320.1 528.5,319.5 531.5,319.0 534.6,318.5 537.6,318.0 540.6,317.5 543.6,317.1 546.6,316.6 549.6,316.1 552.6,315.6 555.6,315.1 558.6,314.6 561.6,314.1 564.7,313.6 567.7,313.1 570.7,312.6 573.7,312.1 576.7,311.7 579.7,311.2 582.7,310.7 585.7,310.2 588.7,309.7 591.7,309.3 594.8,308.8 597.8,308.3 600.8,307.8 603.8,307.4 606.8,306.9 609.8,306.4 612.8,306.0 615.8,305.5 618.8,305.0 621.8,304.6 624.9,304.1 627.9,303.6 630.9,303.2 633.9,302.7 636.9,302.2 639.9,301.8 642.9,301.3 645.9,300.9 648.9,300.4 651.9,300.0 655.0,299.5 658.0,299.1 661.0,298.6 664.0,298.2 667.0,297.7" fill="none" stroke="#000" stroke-width="3.2" stroke-dasharray="11.5 10.8" stroke-linejoin="round" stroke-dashoffset="-7.3"/>
</g>
<g clip-path="url(#cb)">
<polyline points="77.5,913.2 80.5,911.4 83.5,909.6 86.5,907.7 89.6,905.9 92.6,904.1 95.6,902.3 98.6,900.4 101.6,898.6 104.6,896.8 107.6,895.0 110.6,893.2 113.7,891.4 116.7,889.6 119.7,887.8 122.7,886.0 125.7,884.2 128.7,882.5 131.7,880.7 134.7,878.9 137.8,877.1 140.8,875.3 143.8,873.6 146.8,871.8 149.8,870.0 152.8,868.3 155.8,866.5 158.8,864.8 161.9,863.0 164.9,861.3 167.9,859.5 170.9,857.8 173.9,856.0 176.9,854.3 179.9,852.6 182.9,850.8 186.0,849.1 189.0,847.4 192.0,845.7 195.0,843.9 198.0,842.2 201.0,840.5 204.0,838.8 207.0,837.1 210.1,835.4 213.1,833.7 216.1,832.0 219.1,830.3 222.1,828.6 225.1,826.9 228.1,825.2 231.1,823.5 234.2,821.8 237.2,820.1 240.2,818.4 243.2,816.8 246.2,815.1 249.2,813.4 252.2,811.8 255.2,810.1 258.3,808.4 261.3,806.8 264.3,805.1 267.3,803.4 270.3,801.8 273.3,800.1 276.3,798.5 279.3,796.8 282.4,795.2 285.4,793.5 288.4,791.9 291.4,790.3 294.4,788.6 297.4,787.0 300.4,785.4 303.4,783.7 306.5,782.1 309.5,780.5 312.5,778.9 315.5,777.3 318.5,775.6 321.5,774.0 324.5,772.4 327.5,770.8 330.6,769.2 333.6,767.6 336.6,766.0 339.6,764.4 342.6,762.8 345.6,761.2 348.6,759.6 351.6,758.0 354.7,756.4 357.7,754.8 360.7,753.3 363.7,751.7 366.7,750.1 369.7,748.5 372.7,746.9 375.8,745.4 378.8,743.8 381.8,742.2 384.8,740.7 387.8,739.1 390.8,737.5 393.8,736.0 396.8,734.4 399.9,732.8 402.9,731.3 405.9,729.7 408.9,728.2 411.9,726.6 414.9,725.1 417.9,723.5 420.9,722.0 424.0,720.5 427.0,718.9 430.0,717.4 433.0,715.8 436.0,714.3 439.0,712.8 442.0,711.2 445.0,709.7 448.1,708.2 451.1,706.7 454.1,705.1 457.1,703.6 460.1,702.1 463.1,700.6 466.1,699.1 469.1,697.5 472.2,696.0 475.2,694.5 478.2,693.0 481.2,691.5 484.2,690.0 487.2,688.5 490.2,687.0 493.2,685.5 496.3,684.0 499.3,682.5 502.3,681.0 505.3,679.5 508.3,678.0 511.3,676.5 514.3,675.0 517.3,673.5 520.4,672.1 523.4,670.6 526.4,669.1 529.4,667.6 532.4,666.1 535.4,664.7 538.4,663.2 541.4,661.7 544.5,660.2 547.5,658.8 550.5,657.3 553.5,655.8 556.5,654.3 559.5,652.9 562.5,651.4 565.5,649.9 568.6,648.5 571.6,647.0 574.6,645.6 577.6,644.1 580.6,642.6 583.6,641.2 586.6,639.7 589.6,638.3 592.7,636.8 595.7,635.4 598.7,633.9 601.7,632.5 604.7,631.0 607.7,629.6 610.7,628.1 613.7,626.7 616.8,625.2 619.8,623.8 622.8,622.4 625.8,620.9 628.8,619.5 631.8,618.1 634.8,616.6 637.8,615.2 640.9,613.8 643.9,612.3 646.9,610.9 649.9,609.5 652.9,608.0 655.9,606.6 658.9,605.2 661.9,603.7 665.0,602.3 668.0,600.9 671.0,599.5 674.0,598.1" fill="none" stroke="#000" stroke-width="3.0" stroke-linejoin="round"/>
<polyline points="77.5,913.6 80.5,911.9 83.5,910.2 86.5,908.5 89.6,906.8 92.6,905.2 95.6,903.5 98.6,901.8 101.6,900.1 104.6,898.4 107.6,896.7 110.6,895.0 113.7,893.3 116.7,891.7 119.7,890.0 122.7,888.3 125.7,886.6 128.7,884.9 131.7,883.3 134.7,881.6 137.8,879.9 140.8,878.2 143.8,876.6 146.8,874.9 149.8,873.2 152.8,871.5 155.8,869.9 158.8,868.2 161.9,866.5 164.9,864.9 167.9,863.2 170.9,861.5 173.9,859.9 176.9,858.2 179.9,856.6 182.9,854.9 186.0,853.3 189.0,851.6 192.0,849.9 195.0,848.3 198.0,846.6 201.0,845.0 204.0,843.3 207.0,841.7 210.1,840.0 213.1,838.4 216.1,836.8 219.1,835.1 222.1,833.5 225.1,831.8 228.1,830.2 231.1,828.6 234.2,826.9 237.2,825.3 240.2,823.7 243.2,822.0 246.2,820.4 249.2,818.8 252.2,817.1 255.2,815.5 258.3,813.9 261.3,812.3 264.3,810.6 267.3,809.0 270.3,807.4 273.3,805.8 276.3,804.2 279.3,802.5 282.4,800.9 285.4,799.3 288.4,797.7 291.4,796.1 294.4,794.5 297.4,792.9 300.4,791.3 303.4,789.7 306.5,788.1 309.5,786.5 312.5,784.9 315.5,783.3 318.5,781.7 321.5,780.1 324.5,778.5 327.5,776.9 330.6,775.3 333.6,773.7 336.6,772.1 339.6,770.5 342.6,768.9 345.6,767.4 348.6,765.8 351.6,764.2 354.7,762.6 357.7,761.0 360.7,759.5 363.7,757.9 366.7,756.3 369.7,754.7 372.7,753.2 375.8,751.6 378.8,750.0 381.8,748.5 384.8,746.9 387.8,745.3 390.8,743.8 393.8,742.2 396.8,740.7 399.9,739.1 402.9,737.6 405.9,736.0 408.9,734.5 411.9,732.9 414.9,731.4 417.9,729.8 420.9,728.3 424.0,726.7 427.0,725.2 430.0,723.6 433.0,722.1 436.0,720.6 439.0,719.0 442.0,717.5 445.0,716.0 448.1,714.4 451.1,712.9 454.1,711.4 457.1,709.8 460.1,708.3 463.1,706.8 466.1,705.3 469.1,703.8 472.2,702.2 475.2,700.7 478.2,699.2 481.2,697.7 484.2,696.2 487.2,694.7 490.2,693.2 493.2,691.7 496.3,690.2 499.3,688.7 502.3,687.2 505.3,685.7 508.3,684.2 511.3,682.7 514.3,681.2 517.3,679.7 520.4,678.2 523.4,676.7 526.4,675.2 529.4,673.7 532.4,672.3 535.4,670.8 538.4,669.3 541.4,667.8 544.5,666.4 547.5,664.9 550.5,663.4 553.5,661.9 556.5,660.5 559.5,659.0 562.5,657.5 565.5,656.1 568.6,654.6 571.6,653.2 574.6,651.7 577.6,650.2 580.6,648.8 583.6,647.3 586.6,645.9 589.6,644.4 592.7,643.0 595.7,641.6 598.7,640.1 601.7,638.7 604.7,637.2 607.7,635.8 610.7,634.4 613.7,632.9 616.8,631.5 619.8,630.1 622.8,628.6 625.8,627.2 628.8,625.8 631.8,624.4 634.8,623.0 637.8,621.5 640.9,620.1 643.9,618.7 646.9,617.3 649.9,615.9 652.9,614.5 655.9,613.1 658.9,611.7 661.9,610.3 665.0,608.9 668.0,607.5 671.0,606.1 674.0,604.7" fill="none" stroke="#000" stroke-width="2.9" stroke-dasharray="0 6.3" stroke-linecap="round"/>
<polyline points="77.5,913.6 80.5,911.9 83.5,910.2 86.5,908.5 89.6,906.8 92.6,905.1 95.6,903.4 98.6,901.7 101.6,900.1 104.6,898.4 107.6,896.7 110.6,895.0 113.7,893.3 116.7,891.6 119.7,890.0 122.7,888.3 125.7,886.6 128.7,884.9 131.7,883.3 134.7,881.6 137.8,879.9 140.8,878.3 143.8,876.6 146.8,874.9 149.8,873.3 152.8,871.6 155.8,870.0 158.8,868.3 161.9,866.6 164.9,865.0 167.9,863.3 170.9,861.7 173.9,860.0 176.9,858.4 179.9,856.7 182.9,855.1 186.0,853.5 189.0,851.8 192.0,850.2 195.0,848.5 198.0,846.9 201.0,845.3 204.0,843.6 207.0,842.0 210.1,840.4 213.1,838.7 216.1,837.1 219.1,835.5 222.1,833.9 225.1,832.2 228.1,830.6 231.1,829.0 234.2,827.4 237.2,825.7 240.2,824.1 243.2,822.5 246.2,820.9 249.2,819.3 252.2,817.7 255.2,816.0 258.3,814.4 261.3,812.8 264.3,811.2 267.3,809.6 270.3,808.0 273.3,806.4 276.3,804.8 279.3,803.2 282.4,801.6 285.4,800.0 288.4,798.4 291.4,796.8 294.4,795.2 297.4,793.6 300.4,792.0 303.4,790.4 306.5,788.8 309.5,787.2 312.5,785.6 315.5,784.0 318.5,782.4 321.5,780.8 324.5,779.2 327.5,777.6 330.6,776.0 333.6,774.4 336.6,772.8 339.6,771.2 342.6,769.7 345.6,768.1 348.6,766.5 351.6,764.9 354.7,763.3 357.7,761.7 360.7,760.1 363.7,758.5 366.7,757.0 369.7,755.4 372.7,753.8 375.8,752.2 378.8,750.6 381.8,749.0 384.8,747.5 387.8,745.9 390.8,744.3 393.8,742.7 396.8,741.1 399.9,739.6 402.9,738.0 405.9,736.4 408.9,734.8 411.9,733.2 414.9,731.7 417.9,730.1 420.9,728.5 424.0,726.9 427.0,725.3 430.0,723.8 433.0,722.2 436.0,720.6 439.0,719.0 442.0,717.4 445.0,715.9 448.1,714.3 451.1,712.7 454.1,711.1 457.1,709.6 460.1,708.0 463.1,706.4 466.1,704.8 469.1,703.2 472.2,701.7 475.2,700.1 478.2,698.5 481.2,696.9 484.2,695.3 487.2,693.8 490.2,692.2 493.2,690.6 496.3,689.0 499.3,687.4 502.3,685.9 505.3,684.3 508.3,682.7 511.3,681.1 514.3,679.5 517.3,678.0 520.4,676.4 523.4,674.8 526.4,673.2 529.4,671.6 532.4,670.0 535.4,668.5 538.4,666.9 541.4,665.3 544.5,663.7 547.5,662.1 550.5,660.5 553.5,658.9 556.5,657.3 559.5,655.8 562.5,654.2 565.5,652.6 568.6,651.0 571.6,649.4 574.6,647.8 577.6,646.2 580.6,644.6 583.6,643.0 586.6,641.4 589.6,639.8 592.7,638.2 595.7,636.6 598.7,635.0 601.7,633.4 604.7,631.8 607.7,630.2 610.7,628.6 613.7,627.0 616.8,625.4 619.8,623.8 622.8,622.2 625.8,620.6 628.8,619.0 631.8,617.4 634.8,615.8 637.8,614.2 640.9,612.6 643.9,611.0 646.9,609.4 649.9,607.7 652.9,606.1 655.9,604.5 658.9,602.9 661.9,601.3 665.0,599.6 668.0,598.0 671.0,596.4 674.0,594.8" fill="none" stroke="#000" stroke-width="3.2" stroke-dasharray="11.5 10.8" stroke-linejoin="round" stroke-dashoffset="-2.3"/>
<polyline points="77.5,914.1 80.5,912.8 83.5,911.5 86.5,910.2 89.6,908.9 92.6,907.6 95.6,906.3 98.6,905.1 101.6,903.8 104.6,902.5 107.6,901.2 110.6,899.9 113.7,898.6 116.7,897.3 119.7,896.0 122.7,894.7 125.7,893.4 128.7,892.1 131.7,890.9 134.7,889.6 137.8,888.3 140.8,887.0 143.8,885.7 146.8,884.4 149.8,883.1 152.8,881.8 155.8,880.6 158.8,879.3 161.9,878.0 164.9,876.7 167.9,875.4 170.9,874.1 173.9,872.9 176.9,871.6 179.9,870.3 182.9,869.0 186.0,867.7 189.0,866.5 192.0,865.2 195.0,863.9 198.0,862.6 201.0,861.4 204.0,860.1 207.0,858.8 210.1,857.5 213.1,856.3 216.1,855.0 219.1,853.7 222.1,852.4 225.1,851.2 228.1,849.9 231.1,848.6 234.2,847.4 237.2,846.1 240.2,844.8 243.2,843.6 246.2,842.3 249.2,841.0 252.2,839.8 255.2,838.5 258.3,837.3 261.3,836.0 264.3,834.7 267.3,833.5 270.3,832.2 273.3,831.0 276.3,829.7 279.3,828.5 282.4,827.2 285.4,826.0 288.4,824.7 291.4,823.5 294.4,822.2 297.4,821.0 300.4,819.7 303.4,818.5 306.5,817.2 309.5,816.0 312.5,814.8 315.5,813.5 318.5,812.3 321.5,811.0 324.5,809.8 327.5,808.6 330.6,807.3 333.6,806.1 336.6,804.9 339.6,803.6 342.6,802.4 345.6,801.2 348.6,799.9 351.6,798.7 354.7,797.5 357.7,796.3 360.7,795.1 363.7,793.8 366.7,792.6 369.7,791.4 372.7,790.2 375.8,789.0 378.8,787.8 381.8,786.5 384.8,785.3 387.8,784.1 390.8,782.9 393.8,781.7 396.8,780.5 399.9,779.3 402.9,778.1 405.9,776.9 408.9,775.7 411.9,774.5 414.9,773.3 417.9,772.1 420.9,770.9 424.0,769.7 427.0,768.5 430.0,767.4 433.0,766.2 436.0,765.0 439.0,763.8 442.0,762.6 445.0,761.4 448.1,760.3 451.1,759.1 454.1,757.9 457.1,756.7 460.1,755.6 463.1,754.4 466.1,753.2 469.1,752.1 472.2,750.9 475.2,749.7 478.2,748.6 481.2,747.4 484.2,746.3 487.2,745.1 490.2,744.0 493.2,742.8 496.3,741.7 499.3,740.5 502.3,739.4 505.3,738.2 508.3,737.1 511.3,735.9 514.3,734.8 517.3,733.7 520.4,732.5 523.4,731.4 526.4,730.3 529.4,729.2 532.4,728.0 535.4,726.9 538.4,725.8 541.4,724.7 544.5,723.5 547.5,722.4 550.5,721.3 553.5,720.2 556.5,719.1 559.5,718.0 562.5,716.9 565.5,715.8 568.6,714.7 571.6,713.6 574.6,712.5 577.6,711.4 580.6,710.3 583.6,709.2 586.6,708.1 589.6,707.0 592.7,705.9 595.7,704.9 598.7,703.8 601.7,702.7 604.7,701.6 607.7,700.6 610.7,699.5 613.7,698.4 616.8,697.4 619.8,696.3 622.8,695.2 625.8,694.2 628.8,693.1 631.8,692.1 634.8,691.0 637.8,690.0 640.9,688.9 643.9,687.9 646.9,686.9 649.9,685.8 652.9,684.8 655.9,683.7 658.9,682.7 661.9,681.7 665.0,680.7 668.0,679.6 671.0,678.6 674.0,677.6" fill="none" stroke="#000" stroke-width="3.0" stroke-linejoin="round"/>
<polyline points="77.5,914.1 80.5,912.8 83.5,911.5 86.5,910.2 89.6,908.9 92.6,907.6 95.6,906.3 98.6,905.0 101.6,903.7 104.6,902.4 107.6,901.1 110.6,899.8 113.7,898.5 116.7,897.2 119.7,895.9 122.7,894.6 125.7,893.3 128.7,892.0 131.7,890.7 134.7,889.4 137.8,888.1 140.8,886.9 143.8,885.6 146.8,884.3 149.8,883.0 152.8,881.7 155.8,880.4 158.8,879.1 161.9,877.9 164.9,876.6 167.9,875.3 170.9,874.0 173.9,872.7 176.9,871.5 179.9,870.2 182.9,868.9 186.0,867.6 189.0,866.3 192.0,865.1 195.0,863.8 198.0,862.5 201.0,861.2 204.0,860.0 207.0,858.7 210.1,857.4 213.1,856.2 216.1,854.9 219.1,853.6 222.1,852.4 225.1,851.1 228.1,849.8 231.1,848.6 234.2,847.3 237.2,846.0 240.2,844.8 243.2,843.5 246.2,842.3 249.2,841.0 252.2,839.7 255.2,838.5 258.3,837.2 261.3,836.0 264.3,834.7 267.3,833.5 270.3,832.2 273.3,830.9 276.3,829.7 279.3,828.4 282.4,827.2 285.4,826.0 288.4,824.7 291.4,823.5 294.4,822.2 297.4,821.0 300.4,819.7 303.4,818.5 306.5,817.2 309.5,816.0 312.5,814.8 315.5,813.5 318.5,812.3 321.5,811.0 324.5,809.8 327.5,808.6 330.6,807.3 333.6,806.1 336.6,804.9 339.6,803.7 342.6,802.4 345.6,801.2 348.6,800.0 351.6,798.7 354.7,797.5 357.7,796.3 360.7,795.1 363.7,793.9 366.7,792.6 369.7,791.4 372.7,790.2 375.8,789.0 378.8,787.8 381.8,786.5 384.8,785.3 387.8,784.1 390.8,782.9 393.8,781.7 396.8,780.5 399.9,779.3 402.9,778.1 405.9,776.9 408.9,775.7 411.9,774.5 414.9,773.3 417.9,772.1 420.9,770.9 424.0,769.7 427.0,768.5 430.0,767.3 433.0,766.1 436.0,764.9 439.0,763.7 442.0,762.5 445.0,761.3 448.1,760.1 451.1,758.9 454.1,757.7 457.1,756.5 460.1,755.4 463.1,754.2 466.1,753.0 469.1,751.8 472.2,750.6 475.2,749.5 478.2,748.3 481.2,747.1 484.2,745.9 487.2,744.8 490.2,743.6 493.2,742.4 496.3,741.3 499.3,740.1 502.3,738.9 505.3,737.8 508.3,736.6 511.3,735.4 514.3,734.3 517.3,733.1 520.4,731.9 523.4,730.8 526.4,729.6 529.4,728.5 532.4,727.3 535.4,726.2 538.4,725.0 541.4,723.9 544.5,722.7 547.5,721.6 550.5,720.4 553.5,719.3 556.5,718.2 559.5,717.0 562.5,715.9 565.5,714.7 568.6,713.6 571.6,712.5 574.6,711.3 577.6,710.2 580.6,709.1 583.6,707.9 586.6,706.8 589.6,705.7 592.7,704.6 595.7,703.4 598.7,702.3 601.7,701.2 604.7,700.1 607.7,699.0 610.7,697.8 613.7,696.7 616.8,695.6 619.8,694.5 622.8,693.4 625.8,692.3 628.8,691.2 631.8,690.1 634.8,689.0 637.8,687.9 640.9,686.8 643.9,685.7 646.9,684.6 649.9,683.5 652.9,682.4 655.9,681.3 658.9,680.2 661.9,679.1 665.0,678.0 668.0,676.9 671.0,675.8 674.0,674.8" fill="none" stroke="#000" stroke-width="3.2" stroke-dasharray="11.5 10.8" stroke-linejoin="round" stroke-dashoffset="-2.3"/>
<polyline points="77.5,914.1 80.5,912.8 83.5,911.4 86.5,910.1 89.6,908.8 92.6,907.5 95.6,906.1 98.6,904.8 101.6,903.5 104.6,902.2 107.6,900.9 110.6,899.5 113.7,898.2 116.7,896.9 119.7,895.6 122.7,894.3 125.7,893.0 128.7,891.7 131.7,890.4 134.7,889.1 137.8,887.7 140.8,886.4 143.8,885.1 146.8,883.8 149.8,882.5 152.8,881.2 155.8,879.9 158.8,878.6 161.9,877.3 164.9,876.0 167.9,874.8 170.9,873.5 173.9,872.2 176.9,870.9 179.9,869.6 182.9,868.3 186.0,867.0 189.0,865.7 192.0,864.4 195.0,863.2 198.0,861.9 201.0,860.6 204.0,859.3 207.0,858.0 210.1,856.8 213.1,855.5 216.1,854.2 219.1,852.9 222.1,851.7 225.1,850.4 228.1,849.1 231.1,847.8 234.2,846.6 237.2,845.3 240.2,844.0 243.2,842.8 246.2,841.5 249.2,840.2 252.2,839.0 255.2,837.7 258.3,836.5 261.3,835.2 264.3,834.0 267.3,832.7 270.3,831.4 273.3,830.2 276.3,828.9 279.3,827.7 282.4,826.4 285.4,825.2 288.4,824.0 291.4,822.7 294.4,821.5 297.4,820.2 300.4,819.0 303.4,817.7 306.5,816.5 309.5,815.3 312.5,814.0 315.5,812.8 318.5,811.6 321.5,810.3 324.5,809.1 327.5,807.9 330.6,806.6 333.6,805.4 336.6,804.2 339.6,803.0 342.6,801.7 345.6,800.5 348.6,799.3 351.6,798.1 354.7,796.9 357.7,795.7 360.7,794.4 363.7,793.2 366.7,792.0 369.7,790.8 372.7,789.6 375.8,788.4 378.8,787.2 381.8,786.0 384.8,784.8 387.8,783.6 390.8,782.4 393.8,781.2 396.8,780.0 399.9,778.8 402.9,777.6 405.9,776.4 408.9,775.2 411.9,774.0 414.9,772.8 417.9,771.6 420.9,770.4 424.0,769.2 427.0,768.0 430.0,766.9 433.0,765.7 436.0,764.5 439.0,763.3 442.0,762.1 445.0,761.0 448.1,759.8 451.1,758.6 454.1,757.4 457.1,756.3 460.1,755.1 463.1,753.9 466.1,752.8 469.1,751.6 472.2,750.4 475.2,749.3 478.2,748.1 481.2,746.9 484.2,745.8 487.2,744.6 490.2,743.5 493.2,742.3 496.3,741.1 499.3,740.0 502.3,738.8 505.3,737.7 508.3,736.5 511.3,735.4 514.3,734.3 517.3,733.1 520.4,732.0 523.4,730.8 526.4,729.7 529.4,728.5 532.4,727.4 535.4,726.3 538.4,725.1 541.4,724.0 544.5,722.9 547.5,721.7 550.5,720.6 553.5,719.5 556.5,718.4 559.5,717.2 562.5,716.1 565.5,715.0 568.6,713.9 571.6,712.8 574.6,711.6 577.6,710.5 580.6,709.4 583.6,708.3 586.6,707.2 589.6,706.1 592.7,705.0 595.7,703.9 598.7,702.7 601.7,701.6 604.7,700.5 607.7,699.4 610.7,698.3 613.7,697.2 616.8,696.1 619.8,695.1 622.8,694.0 625.8,692.9 628.8,691.8 631.8,690.7 634.8,689.6 637.8,688.5 640.9,687.4 643.9,686.3 646.9,685.3 649.9,684.2 652.9,683.1 655.9,682.0 658.9,680.9 661.9,679.9 665.0,678.8 668.0,677.7 671.0,676.7 674.0,675.6" fill="none" stroke="#000" stroke-width="2.9" stroke-dasharray="0 6.3" stroke-linecap="round"/>
<polyline points="77.5,915.0 80.5,914.2 83.5,913.3 86.5,912.5 89.6,911.7 92.6,910.9 95.6,910.0 98.6,909.2 101.6,908.4 104.6,907.5 107.6,906.7 110.6,905.9 113.7,905.1 116.7,904.3 119.7,903.4 122.7,902.6 125.7,901.8 128.7,901.0 131.7,900.1 134.7,899.3 137.8,898.5 140.8,897.7 143.8,896.9 146.8,896.1 149.8,895.2 152.8,894.4 155.8,893.6 158.8,892.8 161.9,892.0 164.9,891.2 167.9,890.3 170.9,889.5 173.9,888.7 176.9,887.9 179.9,887.1 182.9,886.3 186.0,885.5 189.0,884.7 192.0,883.9 195.0,883.0 198.0,882.2 201.0,881.4 204.0,880.6 207.0,879.8 210.1,879.0 213.1,878.2 216.1,877.4 219.1,876.6 222.1,875.8 225.1,875.0 228.1,874.2 231.1,873.4 234.2,872.6 237.2,871.8 240.2,871.0 243.2,870.2 246.2,869.4 249.2,868.6 252.2,867.8 255.2,867.0 258.3,866.2 261.3,865.4 264.3,864.6 267.3,863.8 270.3,863.0 273.3,862.3 276.3,861.5 279.3,860.7 282.4,859.9 285.4,859.1 288.4,858.3 291.4,857.5 294.4,856.7 297.4,855.9 300.4,855.2 303.4,854.4 306.5,853.6 309.5,852.8 312.5,852.0 315.5,851.2 318.5,850.5 321.5,849.7 324.5,848.9 327.5,848.1 330.6,847.3 333.6,846.6 336.6,845.8 339.6,845.0 342.6,844.2 345.6,843.5 348.6,842.7 351.6,841.9 354.7,841.2 357.7,840.4 360.7,839.6 363.7,838.8 366.7,838.1 369.7,837.3 372.7,836.5 375.8,835.8 378.8,835.0 381.8,834.2 384.8,833.5 387.8,832.7 390.8,832.0 393.8,831.2 396.8,830.4 399.9,829.7 402.9,828.9 405.9,828.2 408.9,827.4 411.9,826.6 414.9,825.9 417.9,825.1 420.9,824.4 424.0,823.6 427.0,822.9 430.0,822.1 433.0,821.4 436.0,820.6 439.0,819.9 442.0,819.1 445.0,818.4 448.1,817.6 451.1,816.9 454.1,816.1 457.1,815.4 460.1,814.7 463.1,813.9 466.1,813.2 469.1,812.4 472.2,811.7 475.2,811.0 478.2,810.2 481.2,809.5 484.2,808.8 487.2,808.0 490.2,807.3 493.2,806.6 496.3,805.8 499.3,805.1 502.3,804.4 505.3,803.6 508.3,802.9 511.3,802.2 514.3,801.5 517.3,800.7 520.4,800.0 523.4,799.3 526.4,798.6 529.4,797.8 532.4,797.1 535.4,796.4 538.4,795.7 541.4,795.0 544.5,794.2 547.5,793.5 550.5,792.8 553.5,792.1 556.5,791.4 559.5,790.7 562.5,790.0 565.5,789.3 568.6,788.6 571.6,787.9 574.6,787.1 577.6,786.4 580.6,785.7 583.6,785.0 586.6,784.3 589.6,783.6 592.7,782.9 595.7,782.2 598.7,781.5 601.7,780.8 604.7,780.1 607.7,779.4 610.7,778.8 613.7,778.1 616.8,777.4 619.8,776.7 622.8,776.0 625.8,775.3 628.8,774.6 631.8,773.9 634.8,773.2 637.8,772.6 640.9,771.9 643.9,771.2 646.9,770.5 649.9,769.8 652.9,769.2 655.9,768.5 658.9,767.8 661.9,767.1 665.0,766.5 668.0,765.8 671.0,765.1 674.0,764.4" fill="none" stroke="#000" stroke-width="3.0" stroke-linejoin="round"/>
<polyline points="77.5,915.0 80.5,914.1 83.5,913.2 86.5,912.3 89.6,911.4 92.6,910.5 95.6,909.6 98.6,908.7 101.6,907.8 104.6,907.0 107.6,906.1 110.6,905.2 113.7,904.3 116.7,903.4 119.7,902.5 122.7,901.6 125.7,900.7 128.7,899.9 131.7,899.0 134.7,898.1 137.8,897.2 140.8,896.3 143.8,895.5 146.8,894.6 149.8,893.7 152.8,892.8 155.8,892.0 158.8,891.1 161.9,890.2 164.9,889.3 167.9,888.5 170.9,887.6 173.9,886.7 176.9,885.9 179.9,885.0 182.9,884.1 186.0,883.3 189.0,882.4 192.0,881.5 195.0,880.7 198.0,879.8 201.0,879.0 204.0,878.1 207.0,877.3 210.1,876.4 213.1,875.5 216.1,874.7 219.1,873.8 222.1,873.0 225.1,872.1 228.1,871.3 231.1,870.4 234.2,869.6 237.2,868.7 240.2,867.9 243.2,867.0 246.2,866.2 249.2,865.4 252.2,864.5 255.2,863.7 258.3,862.8 261.3,862.0 264.3,861.2 267.3,860.3 270.3,859.5 273.3,858.7 276.3,857.8 279.3,857.0 282.4,856.2 285.4,855.3 288.4,854.5 291.4,853.7 294.4,852.8 297.4,852.0 300.4,851.2 303.4,850.4 306.5,849.5 309.5,848.7 312.5,847.9 315.5,847.1 318.5,846.2 321.5,845.4 324.5,844.6 327.5,843.8 330.6,843.0 333.6,842.1 336.6,841.3 339.6,840.5 342.6,839.7 345.6,838.9 348.6,838.1 351.6,837.3 354.7,836.5 357.7,835.7 360.7,834.8 363.7,834.0 366.7,833.2 369.7,832.4 372.7,831.6 375.8,830.8 378.8,830.0 381.8,829.2 384.8,828.4 387.8,827.6 390.8,826.8 393.8,826.0 396.8,825.2 399.9,824.4 402.9,823.6 405.9,822.8 408.9,822.0 411.9,821.3 414.9,820.5 417.9,819.7 420.9,818.9 424.0,818.1 427.0,817.3 430.0,816.5 433.0,815.7 436.0,814.9 439.0,814.2 442.0,813.4 445.0,812.6 448.1,811.8 451.1,811.0 454.1,810.3 457.1,809.5 460.1,808.7 463.1,807.9 466.1,807.1 469.1,806.4 472.2,805.6 475.2,804.8 478.2,804.0 481.2,803.3 484.2,802.5 487.2,801.7 490.2,801.0 493.2,800.2 496.3,799.4 499.3,798.7 502.3,797.9 505.3,797.1 508.3,796.4 511.3,795.6 514.3,794.8 517.3,794.1 520.4,793.3 523.4,792.6 526.4,791.8 529.4,791.0 532.4,790.3 535.4,789.5 538.4,788.8 541.4,788.0 544.5,787.3 547.5,786.5 550.5,785.8 553.5,785.0 556.5,784.3 559.5,783.5 562.5,782.8 565.5,782.0 568.6,781.3 571.6,780.5 574.6,779.8 577.6,779.0 580.6,778.3 583.6,777.5 586.6,776.8 589.6,776.1 592.7,775.3 595.7,774.6 598.7,773.8 601.7,773.1 604.7,772.4 607.7,771.6 610.7,770.9 613.7,770.1 616.8,769.4 619.8,768.7 622.8,767.9 625.8,767.2 628.8,766.5 631.8,765.8 634.8,765.0 637.8,764.3 640.9,763.6 643.9,762.8 646.9,762.1 649.9,761.4 652.9,760.7 655.9,759.9 658.9,759.2 661.9,758.5 665.0,757.8 668.0,757.1 671.0,756.3 674.0,755.6" fill="none" stroke="#000" stroke-width="2.9" stroke-dasharray="0 6.3" stroke-linecap="round"/>
<polyline points="77.5,915.0 80.5,914.1 83.5,913.3 86.5,912.5 89.6,911.7 92.6,910.9 95.6,910.0 98.6,909.2 101.6,908.4 104.6,907.6 107.6,906.8 110.6,906.0 113.7,905.2 116.7,904.4 119.7,903.6 122.7,902.8 125.7,902.0 128.7,901.2 131.7,900.4 134.7,899.6 137.8,898.8 140.8,898.0 143.8,897.2 146.8,896.5 149.8,895.7 152.8,894.9 155.8,894.1 158.8,893.3 161.9,892.6 164.9,891.8 167.9,891.0 170.9,890.2 173.9,889.5 176.9,888.7 179.9,887.9 182.9,887.2 186.0,886.4 189.0,885.7 192.0,884.9 195.0,884.1 198.0,883.4 201.0,882.6 204.0,881.9 207.0,881.1 210.1,880.4 213.1,879.6 216.1,878.9 219.1,878.1 222.1,877.4 225.1,876.6 228.1,875.9 231.1,875.2 234.2,874.4 237.2,873.7 240.2,873.0 243.2,872.2 246.2,871.5 249.2,870.8 252.2,870.0 255.2,869.3 258.3,868.6 261.3,867.8 264.3,867.1 267.3,866.4 270.3,865.7 273.3,865.0 276.3,864.2 279.3,863.5 282.4,862.8 285.4,862.1 288.4,861.4 291.4,860.7 294.4,859.9 297.4,859.2 300.4,858.5 303.4,857.8 306.5,857.1 309.5,856.4 312.5,855.7 315.5,855.0 318.5,854.3 321.5,853.6 324.5,852.9 327.5,852.2 330.6,851.5 333.6,850.8 336.6,850.1 339.6,849.4 342.6,848.7 345.6,848.0 348.6,847.3 351.6,846.6 354.7,845.9 357.7,845.2 360.7,844.5 363.7,843.8 366.7,843.2 369.7,842.5 372.7,841.8 375.8,841.1 378.8,840.4 381.8,839.7 384.8,839.0 387.8,838.4 390.8,837.7 393.8,837.0 396.8,836.3 399.9,835.6 402.9,834.9 405.9,834.3 408.9,833.6 411.9,832.9 414.9,832.2 417.9,831.6 420.9,830.9 424.0,830.2 427.0,829.5 430.0,828.9 433.0,828.2 436.0,827.5 439.0,826.8 442.0,826.2 445.0,825.5 448.1,824.8 451.1,824.1 454.1,823.5 457.1,822.8 460.1,822.1 463.1,821.5 466.1,820.8 469.1,820.1 472.2,819.5 475.2,818.8 478.2,818.1 481.2,817.5 484.2,816.8 487.2,816.1 490.2,815.5 493.2,814.8 496.3,814.1 499.3,813.5 502.3,812.8 505.3,812.1 508.3,811.5 511.3,810.8 514.3,810.1 517.3,809.5 520.4,808.8 523.4,808.2 526.4,807.5 529.4,806.8 532.4,806.2 535.4,805.5 538.4,804.8 541.4,804.2 544.5,803.5 547.5,802.9 550.5,802.2 553.5,801.5 556.5,800.9 559.5,800.2 562.5,799.5 565.5,798.9 568.6,798.2 571.6,797.6 574.6,796.9 577.6,796.2 580.6,795.6 583.6,794.9 586.6,794.2 589.6,793.6 592.7,792.9 595.7,792.3 598.7,791.6 601.7,790.9 604.7,790.3 607.7,789.6 610.7,788.9 613.7,788.3 616.8,787.6 619.8,786.9 622.8,786.3 625.8,785.6 628.8,784.9 631.8,784.3 634.8,783.6 637.8,782.9 640.9,782.3 643.9,781.6 646.9,780.9 649.9,780.3 652.9,779.6 655.9,778.9 658.9,778.3 661.9,777.6 665.0,776.9 668.0,776.3 671.0,775.6 674.0,774.9" fill="none" stroke="#000" stroke-width="3.2" stroke-dasharray="11.5 10.8" stroke-linejoin="round" stroke-dashoffset="-2.3"/>
</g>
<path d="M122.8,368.8 L130.2,376.6 L122.8,384.4 L115.4,376.6Z" fill="#000"/>
<path d="M139.1,358.3 L146.5,366.1 L139.1,373.9 L131.7,366.1Z" fill="#000"/>
<path d="M185.3,333.8 L192.7,341.6 L185.3,349.4 L177.9,341.6Z" fill="#000"/>
<path d="M208.0,321.5 L215.4,329.3 L208.0,337.1 L200.6,329.3Z" fill="#000"/>
<path d="M307.0,262.6 L314.4,270.4 L307.0,278.2 L299.6,270.4Z" fill="#000"/>
<path d="M351.0,241.1 L358.4,248.9 L351.0,256.7 L343.6,248.9Z" fill="#000"/>
<path d="M430.4,195.0 L437.8,202.8 L430.4,210.6 L423.0,202.8Z" fill="#000"/>
<path d="M553.5,127.4 L560.9,135.2 L553.5,143.0 L546.1,135.2Z" fill="#000"/>
<path d="M152.0,354.1 L159.6,362.0 L152.0,369.9 L144.4,362.0Z" fill="#ec1c24"/>
<path d="M254.5,292.0 L262.1,299.9 L254.5,307.8 L246.9,299.9Z" fill="#ec1c24"/>
<path d="M357.2,235.8 L364.8,243.7 L357.2,251.6 L349.6,243.7Z" fill="#ec1c24"/>
<rect x="130.1" y="372.9" width="12.8" height="12" fill="#ec1c24"/>
<rect x="215.6" y="335.6" width="12.8" height="12" fill="#ec1c24"/>
<rect x="298.9" y="300.4" width="12.8" height="12" fill="#ec1c24"/>
<rect x="418.2" y="251.7" width="12.8" height="12" fill="#ec1c24"/>
<rect x="540.9" y="203.6" width="12.8" height="12" fill="#ec1c24"/>
<circle cx="140.9" cy="390.6" r="7.0" fill="#ec1c24"/>
<circle cx="223.8" cy="368.8" r="7.0" fill="#ec1c24"/>
<circle cx="307.0" cy="343.1" r="7.0" fill="#ec1c24"/>
<circle cx="426.6" cy="310.2" r="7.0" fill="#ec1c24"/>
<circle cx="538.7" cy="281.2" r="7.0" fill="#ec1c24"/>
<path d="M131.2,391.8 L139.2,407.0 L123.2,407.0Z" fill="#ec1c24"/>
<path d="M223.0,373.1 L231.0,388.9 L215.0,388.9Z" fill="#ec1c24"/>
<path d="M307.3,357.0 L315.3,372.8 L299.3,372.8Z" fill="#ec1c24"/>
<path d="M425.5,332.3 L433.5,348.1 L417.5,348.1Z" fill="#ec1c24"/>
<path d="M532.0,313.9 L540.0,329.2 L524.0,329.2Z" fill="#ec1c24"/>
<path d="M131.0,873.7 L138.1,881.0 L131.0,888.3 L123.9,881.0Z" fill="#000"/>
<path d="M192.2,840.3 L199.3,847.6 L192.2,854.9 L185.1,847.6Z" fill="#000"/>
<path d="M204.0,834.2 L211.1,841.5 L204.0,848.8 L196.9,841.5Z" fill="#000"/>
<path d="M316.0,773.7 L323.1,781.0 L316.0,788.3 L308.9,781.0Z" fill="#000"/>
<path d="M362.4,744.0 L369.5,751.3 L362.4,758.6 L355.3,751.3Z" fill="#000"/>
<path d="M439.1,707.6 L446.2,714.9 L439.1,722.2 L432.0,714.9Z" fill="#000"/>
<path d="M442.6,698.2 L449.7,705.5 L442.6,712.8 L435.5,705.5Z" fill="#000"/>
<path d="M560.4,641.0 L567.5,648.3 L560.4,655.6 L553.3,648.3Z" fill="#000"/>
<path d="M140.5,871.6 L148.3,879.8 L140.5,888.0 L132.7,879.8Z" fill="#ec1c24"/>
<path d="M215.5,827.7 L223.3,835.9 L215.5,844.1 L207.7,835.9Z" fill="#ec1c24"/>
<path d="M296.2,780.4 L304.0,788.6 L296.2,796.8 L288.4,788.6Z" fill="#ec1c24"/>
<rect x="112.0" y="891.2" width="12" height="12" fill="#ec1c24"/>
<rect x="211.9" y="848.6" width="12" height="12" fill="#ec1c24"/>
<rect x="307.8" y="810.6" width="12" height="12" fill="#ec1c24"/>
<rect x="436.0" y="761.3" width="12" height="12" fill="#ec1c24"/>
<rect x="569.8" y="710.4" width="12" height="12" fill="#ec1c24"/>
<circle cx="150.4" cy="897.0" r="6.9" fill="#ec1c24"/>
<circle cx="231.2" cy="874.0" r="6.9" fill="#ec1c24"/>
<circle cx="314.6" cy="851.6" r="6.9" fill="#ec1c24"/>
<circle cx="436.4" cy="818.2" r="6.9" fill="#ec1c24"/>
<circle cx="545.5" cy="791.5" r="6.9" fill="#ec1c24"/>
<circle cx="627.1" cy="771.3" r="6.9" fill="#ec1c24"/>
<path d="M82.1,45.2 L87.1,50.5 L82.1,55.8 L77.1,50.5Z" fill="#000"/>
<path d="M82.1,84.8 L87.6,90.3 L82.1,95.8 L76.6,90.3Z" fill="#ec1c24"/>
<rect x="76.2" y="125.6" width="11.4" height="11.1" fill="#ec1c24"/>
<circle cx="82.1" cy="172.0" r="5.6" fill="#ec1c24"/>
<path d="M81.9,207.7 L87.5,218.8 L76.4,218.8Z" fill="#ec1c24"/>
<path d="M88.5,556.4 L93.7,561.7 L88.5,567.0 L83.3,561.7Z" fill="#000"/>
<path d="M88.8,601.1 L94.1,606.4 L88.8,611.7 L83.5,606.4Z" fill="#ec1c24"/>
<rect x="83.0" y="645.8" width="11.1" height="11" fill="#ec1c24"/>
<circle cx="88.5" cy="696.7" r="5.6" fill="#ec1c24"/>
<text x="237.00" y="21.20" font-family="Liberation Sans" font-size="30" font-weight="700" textLength="37.07" lengthAdjust="spacing">(a)</text>
<text x="279.60" y="21.00" font-family="Liberation Sans" font-size="23.7" textLength="16.91" lengthAdjust="spacingAndGlyphs">H</text>
<text x="296.00" y="21.00" font-family="Liberation Sans" font-size="12.5" textLength="10.35" lengthAdjust="spacingAndGlyphs">2</text>
<text x="312.20" y="21.00" font-family="Liberation Sans" font-size="23.7" textLength="99.84" lengthAdjust="spacing">solubility</text>
<text x="419.00" y="20.80" font-family="Liberation Sans" font-size="23.7" textLength="22.17" lengthAdjust="spacing">at</text>
<text x="447.40" y="20.50" font-family="Liberation Sans" font-size="23.7" textLength="27.56" lengthAdjust="spacing">50</text>
<text x="480.20" y="14.00" font-family="Liberation Sans" font-size="14" textLength="9.20" lengthAdjust="spacingAndGlyphs">o</text>
<text x="488.20" y="20.50" font-family="Liberation Sans" font-size="23.7" textLength="17.31" lengthAdjust="spacingAndGlyphs">C</text>
<text x="244.60" y="525.00" font-family="Liberation Sans" font-size="30" font-weight="700" textLength="37.91" lengthAdjust="spacing">(b)</text>
<text x="289.20" y="525.00" font-family="Liberation Sans" font-size="26.3" textLength="17.80" lengthAdjust="spacingAndGlyphs">H</text>
<text x="306.40" y="525.00" font-family="Liberation Sans" font-size="13.2" textLength="9.34" lengthAdjust="spacingAndGlyphs">2</text>
<text x="320.60" y="525.00" font-family="Liberation Sans" font-size="25.5" textLength="103.40" lengthAdjust="spacing">solubility</text>
<text x="429.40" y="525.00" font-family="Liberation Sans" font-size="25.5" textLength="22.08" lengthAdjust="spacing">at</text>
<text x="457.20" y="525.00" font-family="Liberation Sans" font-size="25.5" textLength="40.55" lengthAdjust="spacing">100</text>
<text x="505.40" y="516.80" font-family="Liberation Sans" font-size="15.5" textLength="9.02" lengthAdjust="spacingAndGlyphs">o</text>
<text x="513.00" y="524.80" font-family="Liberation Sans" font-size="25.5" textLength="17.62" lengthAdjust="spacingAndGlyphs">C</text>
<text x="72.60" y="25.50" font-family="Liberation Sans" font-size="19.3" textLength="31.29" lengthAdjust="spacing">x10</text>
<text x="105.00" y="18.90" font-family="Liberation Sans" font-size="11.5" textLength="10.63" lengthAdjust="spacing">-3</text>
<text x="63.60" y="533.00" font-family="Liberation Sans" font-size="19.3" textLength="30.49" lengthAdjust="spacing">x10</text>
<text x="95.00" y="526.00" font-family="Liberation Sans" font-size="11.5" textLength="10.43" lengthAdjust="spacing">-3</text>
<text x="29.60" y="418.45" font-family="Liberation Sans" font-size="19.6" textLength="26.65" lengthAdjust="spacing">0.0</text>
<text x="29.60" y="364.20" font-family="Liberation Sans" font-size="19.6" textLength="26.65" lengthAdjust="spacing">0.5</text>
<text x="28.60" y="309.95" font-family="Liberation Sans" font-size="19.6" textLength="27.65" lengthAdjust="spacing">1.0</text>
<text x="28.60" y="255.70" font-family="Liberation Sans" font-size="19.6" textLength="27.65" lengthAdjust="spacing">1.5</text>
<text x="29.60" y="201.45" font-family="Liberation Sans" font-size="19.6" textLength="26.65" lengthAdjust="spacing">2.0</text>
<text x="29.60" y="147.20" font-family="Liberation Sans" font-size="19.6" textLength="26.65" lengthAdjust="spacing">2.5</text>
<text x="29.60" y="92.95" font-family="Liberation Sans" font-size="19.6" textLength="26.65" lengthAdjust="spacing">3.0</text>
<text x="29.60" y="38.70" font-family="Liberation Sans" font-size="19.6" textLength="26.65" lengthAdjust="spacing">3.5</text>
<text x="30.40" y="923.90" font-family="Liberation Sans" font-size="19.6" textLength="27.45" lengthAdjust="spacing">0.0</text>
<text x="30.40" y="875.99" font-family="Liberation Sans" font-size="19.6" textLength="27.45" lengthAdjust="spacing">0.5</text>
<text x="29.40" y="828.07" font-family="Liberation Sans" font-size="19.6" textLength="28.45" lengthAdjust="spacing">1.0</text>
<text x="29.40" y="780.16" font-family="Liberation Sans" font-size="19.6" textLength="28.45" lengthAdjust="spacing">1.5</text>
<text x="30.40" y="732.25" font-family="Liberation Sans" font-size="19.6" textLength="27.45" lengthAdjust="spacing">2.0</text>
<text x="30.40" y="684.34" font-family="Liberation Sans" font-size="19.6" textLength="27.45" lengthAdjust="spacing">2.5</text>
<text x="30.40" y="636.42" font-family="Liberation Sans" font-size="19.6" textLength="27.45" lengthAdjust="spacing">3.0</text>
<text x="30.40" y="588.51" font-family="Liberation Sans" font-size="19.6" textLength="27.45" lengthAdjust="spacing">3.5</text>
<text x="30.40" y="540.60" font-family="Liberation Sans" font-size="19.6" textLength="27.45" lengthAdjust="spacing">4.0</text>
<text x="55.20" y="438.50" font-family="Liberation Sans" font-size="19.5" textLength="26.11" lengthAdjust="spacing">0.0</text>
<text x="169.60" y="438.50" font-family="Liberation Sans" font-size="19.5" textLength="22.70" lengthAdjust="spacing">05</text>
<text x="291.80" y="438.50" font-family="Liberation Sans" font-size="19.5" textLength="21.30" lengthAdjust="spacing">10</text>
<text x="414.00" y="438.50" font-family="Liberation Sans" font-size="19.5" textLength="22.10" lengthAdjust="spacing">15</text>
<text x="537.80" y="438.50" font-family="Liberation Sans" font-size="19.5" textLength="21.90" lengthAdjust="spacing">20</text>
<text x="653.60" y="438.50" font-family="Liberation Sans" font-size="19.5" textLength="21.90" lengthAdjust="spacing">25</text>
<text x="59.80" y="944.30" font-family="Liberation Sans" font-size="19.5" textLength="27.11" lengthAdjust="spacing">0.0</text>
<text x="175.80" y="944.30" font-family="Liberation Sans" font-size="19.5" textLength="23.90" lengthAdjust="spacing">05</text>
<text x="298.80" y="944.30" font-family="Liberation Sans" font-size="19.5" textLength="22.10" lengthAdjust="spacing">10</text>
<text x="423.00" y="944.30" font-family="Liberation Sans" font-size="19.5" textLength="21.10" lengthAdjust="spacing">15</text>
<text x="545.40" y="944.30" font-family="Liberation Sans" font-size="19.5" textLength="23.30" lengthAdjust="spacing">20</text>
<text x="663.60" y="944.30" font-family="Liberation Sans" font-size="19.5" textLength="23.10" lengthAdjust="spacing">25</text>
<text x="261.60" y="465.50" font-family="Liberation Sans" font-size="24.5" textLength="183.35" lengthAdjust="spacing">Pressure (MPa)</text>
<text x="280.80" y="968.80" font-family="Liberation Sans" font-size="25.5" textLength="182.75" lengthAdjust="spacing">Pressure (MPa)</text>
<text x="97.20" y="55.60" font-family="Liberation Sans" font-size="19.6" textLength="223.61" lengthAdjust="spacing">Young, 1981 (pure water)</text>
<text x="96.40" y="96.60" font-family="Liberation Sans" font-size="19.6" textLength="283.11" lengthAdjust="spacing">Chabab et al., 2020 (pure water)</text>
<text x="96.40" y="137.60" font-family="Liberation Sans" font-size="19.6" textLength="265.97" lengthAdjust="spacing">Chabab et al., 2020 (brine 1M)</text>
<text x="96.40" y="178.60" font-family="Liberation Sans" font-size="19.6" textLength="265.97" lengthAdjust="spacing">Chabab et al., 2020 (brine 3M)</text>
<text x="96.40" y="219.60" font-family="Liberation Sans" font-size="19.6" textLength="265.97" lengthAdjust="spacing">Chabab et al., 2020 (brine 5M)</text>
<text x="102.20" y="565.40" font-family="Liberation Sans" font-size="19.6" textLength="226.41" lengthAdjust="spacing">Young, 1981 (pure water)</text>
<text x="102.20" y="610.30" font-family="Liberation Sans" font-size="19.6" textLength="285.71" lengthAdjust="spacing">Chabab et al., 2020 (pure water)</text>
<text x="102.20" y="655.20" font-family="Liberation Sans" font-size="19.6" textLength="268.57" lengthAdjust="spacing">Chabab et al., 2020 (brine 1M)</text>
<text x="102.20" y="700.10" font-family="Liberation Sans" font-size="19.6" textLength="268.57" lengthAdjust="spacing">Chabab et al., 2020 (brine 3M)</text>
<text x="0" y="0" font-family="Liberation Serif" font-weight="700" font-size="22.0" text-anchor="middle" transform="translate(614.35,84.05) rotate(-30)" dominant-baseline="central">salt-free</text>
<text x="0" y="0" font-family="Liberation Serif" font-weight="700" font-size="20.5" text-anchor="middle" transform="translate(608.55,154.7) rotate(-26)" dominant-baseline="central">1m</text>
<text x="0" y="0" font-family="Liberation Serif" font-weight="700" font-size="20.5" text-anchor="middle" transform="translate(609.2,237.35) rotate(-15)" dominant-baseline="central">3m</text>
<text x="0" y="0" font-family="Liberation Serif" font-weight="700" font-size="21.0" text-anchor="middle" transform="translate(609.65,293.7) rotate(-15)" dominant-baseline="central">5m</text>
<text x="0" y="0" font-family="Liberation Serif" font-weight="700" font-size="22.0" text-anchor="middle" transform="translate(598.25,617.0) rotate(-28)" dominant-baseline="central">salt-free</text>
<text x="0" y="0" font-family="Liberation Serif" font-weight="700" font-size="20.0" text-anchor="middle" transform="translate(587.85,692.45) rotate(-23)" dominant-baseline="central">1m</text>
<text x="0" y="0" font-family="Liberation Serif" font-weight="700" font-size="19.0" text-anchor="middle" transform="translate(589.75,765.15) rotate(-20)" dominant-baseline="central">3m</text>
<text x="0" y="0" font-family="Liberation Sans" font-size="22.5" textLength="38.00" lengthAdjust="spacing" transform="translate(17.8,307.80) rotate(-90)">xH<tspan font-size="13.5">2</tspan></text>
<text x="0" y="0" font-family="Liberation Sans" font-size="22.5" textLength="156.20" lengthAdjust="spacing" transform="translate(17.8,261.20) rotate(-90)">(mol fraction)</text>
<text x="0" y="0" font-family="Liberation Sans" font-size="22.5" textLength="38.00" lengthAdjust="spacing" transform="translate(17.8,802.80) rotate(-90)">xH<tspan font-size="13.5">2</tspan></text>
<text x="0" y="0" font-family="Liberation Sans" font-size="22.5" textLength="158.40" lengthAdjust="spacing" transform="translate(17.8,755.60) rotate(-90)">(mol fraction)</text>
</svg>
</body></html>
